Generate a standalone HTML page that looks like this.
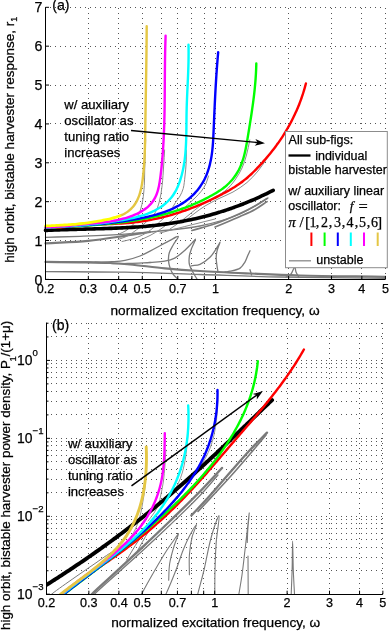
<!DOCTYPE html>
<html><head><meta charset="utf-8"><style>
html,body{margin:0;padding:0;background:#fff;}
svg{display:block;will-change:transform;}
</style></head><body>
<svg width="389" height="631" viewBox="0 0 389 631">
<defs><clipPath id="clipb"><rect x="46.5" y="322.6" width="337.372523698727" height="271.6"/></clipPath><clipPath id="clipa"><rect x="45.5" y="7.310000000000002" width="340.91328710608195" height="272.09"/></clipPath></defs>
<rect width="389" height="631" fill="#fff"/>
<line x1="45.00" y1="240.50" x2="385.41" y2="240.50" stroke="#555" stroke-width="1" stroke-dasharray="1,4" shape-rendering="crispEdges"/>
<line x1="45.00" y1="201.50" x2="385.41" y2="201.50" stroke="#555" stroke-width="1" stroke-dasharray="1,4" shape-rendering="crispEdges"/>
<line x1="45.00" y1="162.50" x2="385.41" y2="162.50" stroke="#555" stroke-width="1" stroke-dasharray="1,4" shape-rendering="crispEdges"/>
<line x1="45.00" y1="123.50" x2="385.41" y2="123.50" stroke="#555" stroke-width="1" stroke-dasharray="1,4" shape-rendering="crispEdges"/>
<line x1="45.00" y1="85.50" x2="385.41" y2="85.50" stroke="#555" stroke-width="1" stroke-dasharray="1,4" shape-rendering="crispEdges"/>
<line x1="45.00" y1="46.50" x2="385.41" y2="46.50" stroke="#555" stroke-width="1" stroke-dasharray="1,4" shape-rendering="crispEdges"/>
<line x1="45.00" y1="7.50" x2="385.41" y2="7.50" stroke="#555" stroke-width="1" stroke-dasharray="1,4" shape-rendering="crispEdges"/>
<line x1="88.50" y1="279.00" x2="88.50" y2="7.31" stroke="#555" stroke-width="1" stroke-dasharray="1,4" shape-rendering="crispEdges"/>
<line x1="118.50" y1="279.00" x2="118.50" y2="7.31" stroke="#555" stroke-width="1" stroke-dasharray="1,4" shape-rendering="crispEdges"/>
<line x1="142.50" y1="279.00" x2="142.50" y2="7.31" stroke="#555" stroke-width="1" stroke-dasharray="1,4" shape-rendering="crispEdges"/>
<line x1="161.50" y1="279.00" x2="161.50" y2="7.31" stroke="#555" stroke-width="1" stroke-dasharray="1,4" shape-rendering="crispEdges"/>
<line x1="177.50" y1="279.00" x2="177.50" y2="7.31" stroke="#555" stroke-width="1" stroke-dasharray="1,4" shape-rendering="crispEdges"/>
<line x1="191.50" y1="279.00" x2="191.50" y2="7.31" stroke="#555" stroke-width="1" stroke-dasharray="1,4" shape-rendering="crispEdges"/>
<line x1="204.50" y1="279.00" x2="204.50" y2="7.31" stroke="#555" stroke-width="1" stroke-dasharray="1,4" shape-rendering="crispEdges"/>
<line x1="215.50" y1="279.00" x2="215.50" y2="7.31" stroke="#555" stroke-width="1" stroke-dasharray="1,4" shape-rendering="crispEdges"/>
<line x1="288.50" y1="279.00" x2="288.50" y2="7.31" stroke="#555" stroke-width="1" stroke-dasharray="1,4" shape-rendering="crispEdges"/>
<line x1="331.50" y1="279.00" x2="331.50" y2="7.31" stroke="#555" stroke-width="1" stroke-dasharray="1,4" shape-rendering="crispEdges"/>
<line x1="361.50" y1="279.00" x2="361.50" y2="7.31" stroke="#555" stroke-width="1" stroke-dasharray="1,4" shape-rendering="crispEdges"/>
<line x1="385.50" y1="279.00" x2="385.50" y2="7.31" stroke="#555" stroke-width="1" stroke-dasharray="1,4" shape-rendering="crispEdges"/>
<path d="M45.50,237.30 C57.00,236.97 67.74,236.76 80.00,236.30 C94.01,235.77 110.95,235.17 125.00,234.20 C137.41,233.34 147.96,232.30 160.00,231.00 C172.90,229.60 186.78,228.79 200.00,226.00 C213.45,223.16 228.11,219.10 240.00,214.00 C250.45,209.52 258.67,203.33 268.00,198.00" stroke="#7a7a7a" stroke-width="1.3" fill="none" stroke-linecap="round" stroke-linejoin="round" />
<path d="M45.50,243.40 C59.67,242.53 74.35,242.14 88.00,240.80 C100.78,239.55 113.88,237.40 125.00,235.80 C134.15,234.49 141.67,233.27 150.00,232.00" stroke="#7a7a7a" stroke-width="2.2" fill="none" stroke-linecap="round" stroke-linejoin="round" />
<path d="M45.50,262.00 C57.00,262.10 68.90,262.12 80.00,262.30 C90.35,262.47 101.02,262.56 110.00,263.00 C117.35,263.36 122.41,263.80 130.00,264.50 C140.05,265.42 153.32,267.22 165.00,268.30 C176.66,269.38 187.29,270.19 200.00,271.00 C215.18,271.96 233.33,272.75 250.00,273.50 C266.66,274.25 281.13,274.98 300.00,275.50 C324.59,276.18 356.67,276.37 385.00,276.80" stroke="#7a7a7a" stroke-width="2.2" fill="none" stroke-linecap="round" stroke-linejoin="round" />
<path d="M45.50,261.50 C60.33,261.67 77.30,261.52 90.00,262.00 C99.53,262.36 107.72,263.42 115.00,263.60 C120.63,263.74 124.64,263.56 130.00,263.40 C136.19,263.22 143.33,262.80 150.00,262.50" stroke="#7a7a7a" stroke-width="1.4" fill="none" stroke-linecap="round" stroke-linejoin="round" />
<path d="M45.50,271.60 C72.00,271.80 98.89,271.70 125.00,272.20 C150.37,272.68 174.60,273.71 200.00,274.50 C226.24,275.31 251.52,276.38 280.00,277.00 C312.62,277.71 350.00,277.87 385.00,278.30" stroke="#7a7a7a" stroke-width="1.3" fill="none" stroke-linecap="round" stroke-linejoin="round" />
<path d="M95.00,262.20 C100.67,262.03 106.72,262.04 112.00,261.70 C116.63,261.40 120.55,261.27 125.00,260.40 C129.86,259.45 135.57,257.72 140.00,256.00 C143.74,254.55 146.68,252.81 150.00,251.10 C153.35,249.38 156.67,247.50 160.00,245.70 C163.33,243.90 166.80,241.90 170.00,240.30 C172.87,238.87 177.69,235.81 178.30,236.50 C178.94,237.21 174.74,242.21 173.20,245.00 C171.76,247.60 170.08,250.06 169.30,252.70 C168.56,255.20 168.37,257.84 168.50,260.40 C168.63,262.98 169.27,265.72 170.10,268.10 C170.88,270.33 171.89,272.47 173.20,274.30 C174.47,276.09 176.27,277.43 177.80,279.00" stroke="#7a7a7a" stroke-width="1.3" fill="none" stroke-linecap="round" stroke-linejoin="round" />
<path d="M150.00,262.50 C154.90,262.07 160.31,262.06 164.70,261.20 C168.40,260.47 171.51,259.76 174.70,258.10 C178.20,256.28 181.74,253.00 184.70,250.40 C187.32,248.09 189.73,245.47 191.70,243.40 C193.21,241.81 195.30,238.91 195.60,239.10 C195.99,239.35 192.76,245.19 191.70,248.10 C190.74,250.74 189.79,253.14 189.40,255.80 C189.00,258.54 188.81,261.53 189.40,264.30 C190.02,267.20 191.84,270.23 193.20,272.80 C194.40,275.07 195.73,276.93 197.00,279.00" stroke="#7a7a7a" stroke-width="1.3" fill="none" stroke-linecap="round" stroke-linejoin="round" />
<path d="M191.50,265.80 C194.33,265.30 197.18,265.47 200.00,264.30 C203.35,262.91 207.43,259.78 210.00,257.30 C212.05,255.32 213.20,253.31 214.70,251.10 C216.31,248.73 218.40,244.98 219.30,243.50 C219.67,242.89 220.03,242.17 220.10,242.20 C220.28,242.28 217.64,248.28 217.00,251.10 C216.44,253.54 216.21,255.71 216.20,258.10 C216.19,260.60 216.68,263.38 217.00,265.80 C217.29,267.98 217.67,269.93 218.00,272.00" stroke="#7a7a7a" stroke-width="1.3" fill="none" stroke-linecap="round" stroke-linejoin="round" />
<path d="M225.00,272.00 C226.70,271.73 228.14,271.66 230.10,271.20 C232.90,270.55 237.57,269.81 240.10,268.10 C242.24,266.65 243.50,264.44 244.80,262.30 C246.15,260.09 247.04,257.09 248.00,255.00 C248.73,253.40 249.33,252.20 250.00,250.80" stroke="#7a7a7a" stroke-width="1.3" fill="none" stroke-linecap="round" stroke-linejoin="round" />
<path d="M250.00,269.70 L251.60,275.00" stroke="#7a7a7a" stroke-width="1.3" fill="none" stroke-linecap="round" stroke-linejoin="round" />
<path d="M286.00,277.00 C287.67,276.00 289.75,275.35 291.00,274.00 C292.23,272.67 292.80,270.38 293.50,269.00 C294.00,268.02 294.43,266.45 294.80,266.50 C295.32,266.57 295.33,270.21 296.00,272.00 C296.70,273.89 298.00,275.67 299.00,277.50" stroke="#7a7a7a" stroke-width="1.3" fill="none" stroke-linecap="round" stroke-linejoin="round" />
<path d="M145.70,140.00 C145.57,143.33 145.44,146.09 145.30,150.00 C145.11,155.52 144.87,163.75 144.70,170.00 C144.55,175.52 144.63,180.51 144.30,185.60 C143.98,190.50 143.47,195.92 142.80,200.00 C142.30,203.07 141.68,205.54 141.00,208.00 C140.40,210.16 139.76,212.06 139.00,214.00 C138.26,215.89 137.54,217.67 136.50,219.50 C135.35,221.51 133.97,223.69 132.30,225.50 C130.56,227.37 128.48,229.04 126.20,230.50 C123.75,232.07 120.73,233.17 118.00,234.50" stroke="#8a8a8a" stroke-width="1.0" fill="none" stroke-linecap="round" stroke-linejoin="round" />
<path d="M164.60,150.00 C164.30,155.00 164.07,159.61 163.70,165.00 C163.26,171.32 162.88,179.25 162.10,185.60 C161.42,191.12 160.73,196.31 159.50,201.00 C158.42,205.11 157.00,209.35 155.40,212.30 C154.23,214.47 152.96,215.94 151.50,217.50 C150.06,219.04 148.40,220.16 146.70,221.60 C144.79,223.21 142.82,224.95 140.60,226.70 C138.07,228.70 134.89,231.15 132.30,232.90 C130.15,234.35 128.44,235.54 126.20,236.60 C123.72,237.77 120.73,238.53 118.00,239.50" stroke="#8a8a8a" stroke-width="1.0" fill="none" stroke-linecap="round" stroke-linejoin="round" />
<path d="M186.40,150.00 C186.33,154.10 186.42,158.09 186.20,162.30 C185.97,166.75 185.51,171.54 185.00,176.00 C184.51,180.29 184.21,185.01 183.20,188.60 C182.39,191.45 181.29,193.67 180.00,196.00 C178.72,198.30 177.08,200.09 175.50,202.50 C173.59,205.41 171.79,209.29 169.40,212.30 C166.99,215.33 164.06,217.80 161.10,220.60 C157.89,223.63 154.14,227.28 150.80,229.80 C148.00,231.92 145.57,233.50 142.60,235.00 C139.43,236.60 135.77,237.91 132.30,239.00 C128.90,240.07 125.43,240.67 122.00,241.50" stroke="#8a8a8a" stroke-width="1.0" fill="none" stroke-linecap="round" stroke-linejoin="round" />
<path d="M208.50,176.00 C207.60,178.67 207.00,181.47 205.80,184.00 C204.60,186.54 203.05,188.91 201.30,191.20 C199.47,193.59 197.12,195.89 195.00,198.00 C193.02,199.97 191.09,201.57 189.00,203.50 C186.68,205.64 184.32,207.77 181.70,210.30 C178.54,213.35 174.92,217.45 171.40,220.60 C168.05,223.59 164.68,226.31 161.10,228.80 C157.55,231.27 153.66,233.58 150.00,235.50 C146.63,237.27 143.33,238.50 140.00,240.00" stroke="#8a8a8a" stroke-width="1.0" fill="none" stroke-linecap="round" stroke-linejoin="round" />
<path d="M249.80,140.00 C248.70,145.00 247.85,150.22 246.50,155.00 C245.22,159.53 243.91,163.84 242.00,168.00 C240.08,172.18 237.77,176.22 235.00,180.00 C232.13,183.91 228.82,187.92 225.00,191.00 C221.16,194.09 216.22,195.96 212.00,198.50 C207.90,200.96 203.75,203.34 200.00,206.00 C196.44,208.53 193.33,211.33 190.00,214.00 C186.67,216.67 183.37,219.47 180.00,222.00 C176.71,224.47 173.33,226.67 170.00,229.00" stroke="#8a8a8a" stroke-width="1.0" fill="none" stroke-linecap="round" stroke-linejoin="round" />
<path d="M266.00,160.00 C263.33,163.67 261.01,167.39 258.00,171.00 C254.74,174.90 251.09,179.04 247.00,182.50 C242.78,186.07 237.78,189.29 233.00,192.00 C228.44,194.59 223.63,196.19 219.00,198.50 C214.30,200.85 209.21,203.41 205.00,206.00 C201.31,208.27 198.29,210.53 195.00,213.00 C191.63,215.53 188.33,218.33 185.00,221.00" stroke="#8a8a8a" stroke-width="1.0" fill="none" stroke-linecap="round" stroke-linejoin="round" />
<path d="M160.00,233.00 C165.00,231.67 169.64,230.39 175.00,229.00 C181.18,227.40 188.33,225.67 195.00,224.00 C201.67,222.33 208.33,220.67 215.00,219.00" stroke="#8a8a8a" stroke-width="1.0" fill="none" stroke-linecap="round" stroke-linejoin="round" />
<path d="M191.90,230.50 C199.60,228.27 207.22,226.52 215.00,223.80 C223.25,220.91 232.78,216.79 240.00,213.50 C245.69,210.91 250.32,208.61 255.00,206.00 C259.31,203.59 263.07,201.00 267.10,198.50" stroke="#7a7a7a" stroke-width="1.7" fill="none" stroke-linecap="round" stroke-linejoin="round" />
<path d="M215.10,227.00 C223.40,223.50 232.77,219.71 240.00,216.50 C245.66,213.99 250.35,212.08 255.00,209.50 C259.34,207.09 263.07,204.23 267.10,201.60" stroke="#7a7a7a" stroke-width="1.7" fill="none" stroke-linecap="round" stroke-linejoin="round" />
<path d="M45.50,230.40 C46.52,230.35 47.55,230.30 48.57,230.26 C49.60,230.21 50.62,230.17 51.64,230.12 C52.67,230.08 53.69,230.04 54.71,230.00 C55.74,229.96 56.76,229.92 57.79,229.89 C58.81,229.85 59.84,229.82 60.86,229.78 C61.88,229.75 62.91,229.72 63.93,229.68 C64.96,229.65 65.98,229.62 67.01,229.59 C68.03,229.56 69.05,229.53 70.08,229.50 C71.10,229.47 72.13,229.45 73.15,229.42 C74.18,229.39 75.20,229.37 76.22,229.34 C77.25,229.31 78.27,229.29 79.30,229.26 C80.32,229.24 81.35,229.21 82.37,229.18 C83.40,229.16 84.42,229.13 85.44,229.11 C86.47,229.08 87.49,229.06 88.52,229.03 C89.54,229.00 90.57,228.98 91.59,228.95 C92.62,228.92 93.64,228.90 94.66,228.87 C95.69,228.84 96.71,228.81 97.74,228.78 C98.76,228.76 99.79,228.73 100.81,228.69 C101.84,228.66 102.86,228.63 103.88,228.60 C104.91,228.57 105.93,228.53 106.96,228.50 C107.98,228.46 109.00,228.43 110.03,228.39 C111.05,228.35 112.08,228.31 113.10,228.27 C114.13,228.23 115.15,228.19 116.17,228.15 C117.20,228.11 118.22,228.06 119.24,228.01 C120.27,227.97 121.29,227.92 122.31,227.87 C123.34,227.82 124.36,227.76 125.39,227.71 C126.41,227.65 127.43,227.60 128.45,227.54 C129.48,227.48 130.50,227.42 131.52,227.35 C132.55,227.29 133.57,227.22 134.59,227.15 C135.61,227.08 136.64,227.01 137.66,226.94 C138.68,226.86 139.70,226.78 140.72,226.70 C141.75,226.62 142.77,226.54 143.79,226.45 C144.81,226.37 145.83,226.28 146.85,226.18 C147.87,226.09 148.89,226.00 149.91,225.90 C150.93,225.80 151.95,225.69 152.97,225.59 C153.99,225.48 155.01,225.37 156.03,225.26 C157.04,225.14 158.06,225.02 159.08,224.90 C160.10,224.78 161.11,224.66 162.13,224.53 C163.15,224.40 164.16,224.26 165.18,224.12 C166.19,223.99 167.21,223.84 168.22,223.70 C169.24,223.55 170.25,223.40 171.26,223.24 C172.28,223.09 173.29,222.93 174.30,222.76 C175.31,222.60 176.32,222.43 177.33,222.26 C178.34,222.08 179.35,221.91 180.36,221.72 C181.37,221.54 182.38,221.35 183.38,221.16 C184.39,220.97 185.40,220.77 186.40,220.57 C187.41,220.37 188.41,220.17 189.41,219.96 C190.42,219.75 191.42,219.54 192.42,219.32 C193.42,219.10 194.42,218.88 195.42,218.65 C196.42,218.42 197.42,218.19 198.41,217.95 C199.41,217.71 200.41,217.47 201.40,217.23 C202.40,216.98 203.39,216.73 204.38,216.48 C205.38,216.22 206.37,215.96 207.36,215.70 C208.35,215.43 209.34,215.16 210.32,214.89 C211.31,214.62 212.30,214.34 213.28,214.06 C214.27,213.78 215.25,213.49 216.24,213.20 C217.22,212.91 218.20,212.61 219.18,212.31 C220.16,212.01 221.14,211.70 222.11,211.40 C223.09,211.09 224.07,210.77 225.04,210.45 C226.01,210.13 226.99,209.81 227.96,209.48 C228.93,209.16 229.90,208.82 230.87,208.49 C231.83,208.15 232.80,207.81 233.76,207.46 C234.73,207.12 235.69,206.77 236.65,206.41 C237.61,206.06 238.57,205.70 239.53,205.33 C240.49,204.97 241.45,204.60 242.40,204.23 C243.36,203.85 244.31,203.48 245.26,203.09 C246.21,202.71 247.16,202.32 248.11,201.93 C249.05,201.54 250.00,201.15 250.94,200.75 C251.89,200.35 252.83,199.94 253.77,199.53 C254.71,199.12 255.64,198.71 256.58,198.29 C257.52,197.87 258.45,197.45 259.38,197.03 C260.31,196.60 261.24,196.17 262.17,195.73 C263.10,195.30 264.02,194.86 264.95,194.41 C265.87,193.97 266.79,193.52 267.71,193.06 C268.63,192.61 269.55,192.15 270.46,191.69 C271.38,191.23 272.29,190.76 273.20,190.29" stroke="#000" stroke-width="3.6" fill="none" stroke-linecap="round" stroke-linejoin="round" />
<path d="M45.50,227.70 C46.51,227.70 47.52,227.70 48.53,227.69 C49.54,227.68 50.55,227.66 51.56,227.64 C52.57,227.62 53.59,227.59 54.60,227.55 C55.61,227.52 56.62,227.48 57.63,227.43 C58.63,227.38 59.64,227.33 60.65,227.28 C61.66,227.22 62.67,227.16 63.68,227.10 C64.69,227.04 65.70,226.97 66.71,226.90 C67.72,226.83 68.72,226.76 69.73,226.68 C70.74,226.61 71.75,226.53 72.75,226.45 C73.76,226.37 74.77,226.29 75.78,226.21 C76.79,226.13 77.79,226.05 78.80,225.97 C79.81,225.89 80.82,225.81 81.82,225.73 C82.83,225.64 83.84,225.56 84.85,225.49 C85.85,225.41 86.86,225.33 87.87,225.26 C88.88,225.18 89.89,225.11 90.89,225.04 C91.90,224.97 92.91,224.90 93.92,224.84 C94.93,224.77 95.94,224.71 96.95,224.66 C97.96,224.60 98.97,224.55 99.97,224.49 C100.98,224.44 101.99,224.39 103.00,224.35 C104.01,224.30 105.02,224.25 106.03,224.21 C107.04,224.16 108.05,224.12 109.06,224.07 C110.07,224.03 111.08,223.98 112.09,223.93 C113.10,223.89 114.11,223.84 115.12,223.79 C116.13,223.74 117.14,223.69 118.15,223.63 C119.16,223.57 120.17,223.52 121.18,223.45 C122.18,223.39 123.19,223.33 124.20,223.25 C125.21,223.18 126.22,223.11 127.23,223.03 C128.23,222.94 129.24,222.86 130.25,222.76 C131.25,222.67 132.26,222.57 133.26,222.46 C134.27,222.36 135.27,222.24 136.28,222.12 C137.28,222.00 138.28,221.87 139.28,221.73 C140.29,221.59 141.29,221.45 142.29,221.30 C143.29,221.15 144.28,220.99 145.28,220.83 C146.28,220.66 147.27,220.49 148.27,220.31 C149.26,220.14 150.26,219.95 151.25,219.76 C152.24,219.57 153.23,219.37 154.22,219.16 C155.21,218.96 156.20,218.75 157.19,218.53 C158.18,218.31 159.16,218.08 160.14,217.85 C161.13,217.62 162.11,217.38 163.09,217.14 C164.07,216.89 165.05,216.64 166.03,216.38 C167.01,216.12 167.98,215.86 168.96,215.59 C169.93,215.32 170.90,215.04 171.87,214.76 C172.84,214.48 173.81,214.19 174.78,213.90 C175.75,213.60 176.71,213.30 177.67,212.99 C178.64,212.69 179.60,212.37 180.56,212.05 C181.52,211.74 182.47,211.41 183.43,211.08 C184.38,210.75 185.34,210.42 186.29,210.07 C187.24,209.73 188.19,209.38 189.14,209.03 C190.08,208.68 191.03,208.32 191.97,207.96 C192.92,207.59 193.86,207.22 194.80,206.85 C195.73,206.47 196.67,206.09 197.60,205.71 C198.54,205.32 199.47,204.93 200.40,204.53 C201.33,204.14 202.26,203.74 203.18,203.33 C204.11,202.92 205.03,202.51 205.95,202.10 C206.88,201.68 207.79,201.26 208.71,200.83 C209.63,200.41 210.54,199.97 211.45,199.54 C212.36,199.10 213.27,198.66 214.18,198.21 C215.09,197.77 215.99,197.32 216.89,196.86 C217.80,196.41 218.70,195.94 219.59,195.48 C220.49,195.01 221.39,194.54 222.28,194.07 C223.17,193.59 224.06,193.11 224.94,192.62 C225.83,192.14 226.72,191.65 227.60,191.15 C228.48,190.66 229.35,190.15 230.23,189.64 C231.10,189.13 231.97,188.62 232.83,188.09 C233.69,187.56 234.55,187.03 235.40,186.48 C236.25,185.94 237.10,185.39 237.94,184.82 C238.78,184.26 239.61,183.68 240.43,183.10 C241.25,182.51 242.07,181.91 242.88,181.30 C243.68,180.69 244.48,180.07 245.26,179.43 C246.05,178.79 246.82,178.14 247.58,177.48 C248.35,176.82 249.10,176.15 249.85,175.46 C250.60,174.78 251.33,174.09 252.06,173.39 C252.79,172.69 253.51,171.98 254.22,171.26 C254.94,170.55 255.64,169.83 256.35,169.10 C257.05,168.37 257.74,167.64 258.43,166.90 C259.13,166.16 259.81,165.42 260.49,164.67 C261.18,163.93 261.86,163.18 262.53,162.43 C263.21,161.68 263.88,160.92 264.55,160.16 C265.21,159.40 265.88,158.64 266.53,157.87 C267.19,157.10 267.84,156.33 268.49,155.56 C269.14,154.78 269.78,154.00 270.42,153.21 C271.05,152.43 271.68,151.64 272.31,150.84 C272.93,150.05 273.55,149.25 274.16,148.45 C274.78,147.64 275.38,146.83 275.98,146.02 C276.58,145.20 277.18,144.39 277.76,143.56 C278.35,142.74 278.93,141.91 279.51,141.08 C280.08,140.25 280.65,139.41 281.21,138.57 C281.77,137.73 282.32,136.89 282.87,136.04 C283.42,135.19 283.96,134.33 284.49,133.48 C285.03,132.62 285.55,131.75 286.07,130.89 C286.59,130.02 287.11,129.15 287.61,128.27 C288.12,127.40 288.62,126.52 289.11,125.64 C289.60,124.75 290.08,123.86 290.56,122.97 C291.03,122.08 291.50,121.19 291.96,120.29 C292.42,119.39 292.88,118.48 293.32,117.58 C293.77,116.67 294.21,115.76 294.64,114.84 C295.07,113.93 295.49,113.01 295.91,112.09 C296.32,111.17 296.73,110.24 297.13,109.31 C297.53,108.38 297.92,107.45 298.30,106.52 C298.68,105.58 299.06,104.64 299.42,103.70 C299.79,102.76 300.15,101.81 300.50,100.87 C300.85,99.92 301.19,98.97 301.53,98.01 C301.86,97.06 302.19,96.10 302.50,95.14 C302.82,94.18 303.13,93.22 303.43,92.25 C303.73,91.29 304.02,90.32 304.30,89.35 C304.59,88.38 304.86,87.41 305.13,86.43 C305.39,85.46 305.64,84.48 305.90,83.50" stroke="#ff0000" stroke-width="2.4" fill="none" stroke-linecap="round" stroke-linejoin="round" />
<path d="M45.50,227.60 C46.52,227.55 47.53,227.51 48.55,227.47 C49.56,227.42 50.58,227.38 51.60,227.33 C52.61,227.29 53.63,227.24 54.64,227.20 C55.66,227.15 56.67,227.11 57.69,227.07 C58.70,227.02 59.72,226.98 60.74,226.93 C61.75,226.88 62.77,226.84 63.78,226.79 C64.80,226.74 65.81,226.70 66.83,226.65 C67.85,226.60 68.86,226.55 69.88,226.50 C70.89,226.45 71.91,226.40 72.92,226.35 C73.94,226.30 74.95,226.24 75.97,226.19 C76.98,226.14 78.00,226.08 79.01,226.02 C80.03,225.97 81.04,225.91 82.06,225.85 C83.07,225.79 84.09,225.73 85.10,225.66 C86.12,225.60 87.13,225.54 88.15,225.47 C89.16,225.40 90.18,225.34 91.19,225.26 C92.20,225.19 93.22,225.12 94.23,225.05 C95.25,224.97 96.26,224.90 97.27,224.82 C98.29,224.74 99.30,224.66 100.31,224.57 C101.33,224.49 102.34,224.40 103.35,224.31 C104.37,224.22 105.38,224.13 106.39,224.04 C107.40,223.94 108.41,223.84 109.43,223.74 C110.44,223.64 111.45,223.54 112.46,223.43 C113.47,223.33 114.48,223.22 115.49,223.10 C116.50,222.99 117.51,222.88 118.52,222.76 C119.53,222.64 120.54,222.51 121.55,222.39 C122.56,222.26 123.57,222.13 124.58,222.00 C125.58,221.86 126.59,221.72 127.60,221.58 C128.60,221.44 129.61,221.30 130.62,221.15 C131.62,221.00 132.63,220.84 133.63,220.68 C134.63,220.53 135.64,220.36 136.64,220.20 C137.64,220.03 138.65,219.86 139.65,219.68 C140.65,219.51 141.65,219.33 142.65,219.14 C143.65,218.96 144.65,218.77 145.65,218.57 C146.64,218.38 147.64,218.18 148.64,217.98 C149.63,217.77 150.63,217.56 151.62,217.35 C152.61,217.13 153.61,216.91 154.60,216.69 C155.59,216.46 156.58,216.23 157.57,215.99 C158.56,215.76 159.55,215.51 160.53,215.27 C161.52,215.02 162.50,214.77 163.48,214.51 C164.47,214.25 165.45,213.98 166.43,213.71 C167.41,213.44 168.39,213.16 169.36,212.88 C170.34,212.60 171.31,212.31 172.29,212.01 C173.26,211.72 174.23,211.41 175.20,211.10 C176.17,210.80 177.14,210.48 178.10,210.16 C179.06,209.84 180.03,209.51 180.99,209.18 C181.95,208.84 182.90,208.50 183.86,208.15 C184.81,207.80 185.77,207.45 186.72,207.09 C187.67,206.72 188.61,206.35 189.56,205.98 C190.50,205.60 191.45,205.22 192.38,204.83 C193.32,204.44 194.26,204.04 195.19,203.64 C196.12,203.23 197.05,202.82 197.98,202.40 C198.91,201.99 199.83,201.56 200.75,201.13 C201.67,200.69 202.59,200.25 203.50,199.80 C204.41,199.36 205.32,198.90 206.23,198.44 C207.13,197.97 208.03,197.50 208.93,197.03 C209.83,196.55 210.72,196.06 211.61,195.57 C212.50,195.08 213.38,194.58 214.26,194.06 C215.14,193.55 216.01,193.03 216.87,192.49 C217.74,191.95 218.60,191.41 219.44,190.84 C220.29,190.28 221.12,189.70 221.95,189.10 C222.77,188.51 223.58,187.90 224.38,187.26 C225.17,186.63 225.96,185.98 226.72,185.31 C227.48,184.64 228.23,183.94 228.95,183.23 C229.67,182.51 230.38,181.78 231.06,181.02 C231.74,180.27 232.40,179.49 233.03,178.70 C233.67,177.91 234.28,177.10 234.87,176.27 C235.46,175.44 236.03,174.60 236.57,173.74 C237.11,172.88 237.63,172.00 238.12,171.11 C238.62,170.22 239.08,169.32 239.52,168.40 C239.97,167.49 240.38,166.56 240.78,165.62 C241.17,164.68 241.54,163.74 241.89,162.78 C242.24,161.83 242.56,160.86 242.87,159.89 C243.18,158.93 243.47,157.95 243.74,156.97 C244.02,155.99 244.27,155.01 244.52,154.02 C244.76,153.04 244.99,152.05 245.21,151.05 C245.44,150.06 245.64,149.07 245.84,148.07 C246.04,147.07 246.23,146.07 246.42,145.07 C246.60,144.07 246.78,143.07 246.95,142.07 C247.13,141.07 247.29,140.07 247.46,139.06 C247.63,138.06 247.79,137.06 247.95,136.05 C248.12,135.05 248.28,134.05 248.44,133.04 C248.61,132.04 248.77,131.04 248.93,130.03 C249.10,129.03 249.26,128.03 249.42,127.02 C249.58,126.02 249.74,125.01 249.90,124.01 C250.06,123.01 250.22,122.00 250.38,121.00 C250.54,119.99 250.70,118.99 250.86,117.98 C251.01,116.98 251.17,115.98 251.32,114.97 C251.47,113.96 251.62,112.96 251.77,111.95 C251.92,110.95 252.07,109.94 252.21,108.94 C252.36,107.93 252.50,106.92 252.64,105.92 C252.78,104.91 252.92,103.90 253.06,102.89 C253.19,101.89 253.32,100.88 253.45,99.87 C253.58,98.86 253.71,97.85 253.83,96.84 C253.95,95.83 254.07,94.82 254.19,93.81 C254.30,92.80 254.41,91.79 254.52,90.78 C254.63,89.77 254.73,88.76 254.83,87.75 C254.93,86.74 255.03,85.73 255.12,84.71 C255.21,83.70 255.30,82.69 255.38,81.67 C255.46,80.66 255.54,79.65 255.61,78.63 C255.68,77.62 255.75,76.60 255.81,75.59 C255.88,74.57 255.93,73.56 255.98,72.54 C256.04,71.53 256.08,70.51 256.12,69.50 C256.16,68.48 256.20,67.47 256.23,66.45 C256.26,65.43 256.28,64.42 256.30,63.40" stroke="#00ff00" stroke-width="2.4" fill="none" stroke-linecap="round" stroke-linejoin="round" />
<path d="M45.50,227.50 C46.51,227.45 47.53,227.41 48.54,227.36 C49.56,227.31 50.58,227.26 51.59,227.22 C52.61,227.17 53.62,227.12 54.64,227.07 C55.65,227.02 56.67,226.97 57.68,226.92 C58.70,226.87 59.71,226.82 60.73,226.77 C61.74,226.72 62.76,226.67 63.77,226.61 C64.79,226.56 65.80,226.51 66.82,226.45 C67.83,226.40 68.84,226.34 69.86,226.28 C70.87,226.22 71.89,226.17 72.90,226.10 C73.92,226.04 74.93,225.98 75.95,225.92 C76.96,225.86 77.97,225.79 78.99,225.72 C80.00,225.66 81.02,225.59 82.03,225.52 C83.04,225.45 84.06,225.37 85.07,225.30 C86.09,225.23 87.10,225.15 88.11,225.07 C89.13,224.99 90.14,224.91 91.15,224.83 C92.16,224.74 93.18,224.66 94.19,224.57 C95.20,224.48 96.21,224.39 97.23,224.30 C98.24,224.20 99.25,224.11 100.26,224.01 C101.27,223.91 102.28,223.81 103.29,223.70 C104.31,223.60 105.32,223.49 106.33,223.38 C107.34,223.27 108.35,223.16 109.36,223.04 C110.37,222.92 111.37,222.80 112.38,222.68 C113.39,222.56 114.40,222.43 115.41,222.30 C116.42,222.17 117.42,222.04 118.43,221.90 C119.44,221.77 120.44,221.62 121.45,221.48 C122.46,221.34 123.46,221.19 124.47,221.04 C125.47,220.89 126.48,220.73 127.48,220.58 C128.48,220.42 129.49,220.26 130.49,220.09 C131.49,219.92 132.50,219.75 133.50,219.58 C134.50,219.41 135.50,219.23 136.50,219.05 C137.50,218.86 138.50,218.68 139.50,218.49 C140.49,218.29 141.49,218.09 142.49,217.89 C143.48,217.68 144.48,217.47 145.47,217.26 C146.46,217.04 147.45,216.81 148.44,216.58 C149.43,216.35 150.42,216.11 151.40,215.86 C152.39,215.61 153.37,215.35 154.35,215.09 C155.33,214.82 156.31,214.54 157.29,214.26 C158.26,213.97 159.23,213.67 160.20,213.37 C161.17,213.06 162.14,212.74 163.10,212.41 C164.06,212.08 165.01,211.73 165.97,211.38 C166.92,211.02 167.87,210.65 168.81,210.27 C169.75,209.89 170.68,209.49 171.61,209.08 C172.54,208.67 173.47,208.24 174.38,207.80 C175.30,207.36 176.20,206.90 177.10,206.43 C178.00,205.95 178.89,205.46 179.77,204.96 C180.65,204.45 181.52,203.92 182.38,203.38 C183.24,202.83 184.09,202.27 184.92,201.69 C185.75,201.11 186.58,200.51 187.38,199.89 C188.19,199.27 188.98,198.64 189.76,197.98 C190.53,197.32 191.29,196.65 192.03,195.95 C192.77,195.26 193.50,194.54 194.20,193.81 C194.91,193.08 195.60,192.33 196.26,191.56 C196.93,190.80 197.58,190.02 198.21,189.22 C198.83,188.42 199.44,187.60 200.03,186.77 C200.61,185.94 201.18,185.09 201.72,184.23 C202.26,183.37 202.78,182.50 203.27,181.61 C203.77,180.73 204.24,179.82 204.69,178.91 C205.14,178.00 205.57,177.08 205.97,176.15 C206.38,175.21 206.76,174.27 207.12,173.32 C207.48,172.37 207.82,171.41 208.14,170.45 C208.47,169.49 208.77,168.52 209.05,167.54 C209.33,166.56 209.59,165.58 209.84,164.60 C210.09,163.61 210.31,162.62 210.52,161.62 C210.74,160.63 210.93,159.63 211.11,158.63 C211.29,157.63 211.46,156.63 211.61,155.63 C211.76,154.62 211.90,153.61 212.03,152.61 C212.16,151.60 212.28,150.59 212.38,149.58 C212.49,148.57 212.59,147.56 212.68,146.54 C212.77,145.53 212.85,144.52 212.92,143.50 C213.00,142.49 213.06,141.48 213.12,140.46 C213.19,139.45 213.24,138.43 213.30,137.42 C213.35,136.40 213.40,135.39 213.44,134.37 C213.49,133.36 213.54,132.34 213.58,131.33 C213.62,130.31 213.67,129.30 213.71,128.28 C213.75,127.27 213.80,126.25 213.84,125.23 C213.88,124.22 213.93,123.20 213.97,122.19 C214.01,121.17 214.06,120.16 214.10,119.14 C214.15,118.13 214.19,117.11 214.23,116.10 C214.28,115.08 214.32,114.07 214.37,113.05 C214.41,112.03 214.46,111.02 214.50,110.00 C214.55,108.99 214.60,107.97 214.64,106.96 C214.69,105.94 214.74,104.93 214.78,103.91 C214.83,102.90 214.88,101.88 214.93,100.87 C214.98,99.85 215.03,98.84 215.08,97.82 C215.13,96.81 215.18,95.79 215.24,94.78 C215.29,93.76 215.34,92.75 215.40,91.73 C215.45,90.72 215.51,89.70 215.56,88.69 C215.62,87.67 215.68,86.66 215.74,85.64 C215.80,84.63 215.86,83.62 215.92,82.60 C215.98,81.59 216.04,80.57 216.10,79.56 C216.17,78.54 216.23,77.53 216.30,76.52 C216.37,75.50 216.43,74.49 216.50,73.47 C216.57,72.46 216.64,71.45 216.72,70.43 C216.79,69.42 216.86,68.40 216.94,67.39 C217.01,66.38 217.09,65.36 217.17,64.35 C217.25,63.34 217.33,62.33 217.41,61.31 C217.49,60.30 217.58,59.29 217.66,58.27 C217.75,57.26 217.84,56.25 217.93,55.24 C218.02,54.22 218.11,53.21 218.20,52.20" stroke="#0000ff" stroke-width="2.4" fill="none" stroke-linecap="round" stroke-linejoin="round" />
<path d="M45.50,227.40 C46.51,227.35 47.52,227.31 48.53,227.26 C49.54,227.21 50.55,227.16 51.56,227.11 C52.57,227.07 53.58,227.02 54.59,226.97 C55.60,226.92 56.61,226.86 57.61,226.81 C58.62,226.76 59.63,226.71 60.64,226.65 C61.65,226.60 62.66,226.54 63.67,226.48 C64.68,226.42 65.69,226.36 66.70,226.30 C67.71,226.24 68.72,226.18 69.72,226.12 C70.73,226.05 71.74,225.99 72.75,225.92 C73.76,225.85 74.77,225.78 75.78,225.71 C76.78,225.63 77.79,225.56 78.80,225.48 C79.81,225.41 80.81,225.33 81.82,225.24 C82.83,225.16 83.84,225.08 84.84,224.99 C85.85,224.90 86.86,224.81 87.86,224.72 C88.87,224.63 89.88,224.53 90.88,224.43 C91.89,224.33 92.89,224.23 93.90,224.12 C94.90,224.02 95.91,223.91 96.91,223.80 C97.92,223.68 98.92,223.57 99.93,223.45 C100.93,223.33 101.93,223.21 102.94,223.08 C103.94,222.95 104.94,222.82 105.94,222.69 C106.95,222.55 107.95,222.42 108.95,222.27 C109.95,222.13 110.95,221.98 111.95,221.83 C112.95,221.68 113.95,221.53 114.94,221.37 C115.94,221.21 116.94,221.05 117.94,220.88 C118.93,220.71 119.93,220.54 120.92,220.36 C121.92,220.19 122.91,220.00 123.91,219.82 C124.90,219.63 125.89,219.44 126.89,219.25 C127.88,219.05 128.87,218.85 129.86,218.64 C130.85,218.43 131.83,218.22 132.82,218.00 C133.81,217.77 134.79,217.54 135.77,217.30 C136.75,217.05 137.73,216.80 138.71,216.53 C139.68,216.27 140.65,215.99 141.62,215.70 C142.59,215.41 143.55,215.10 144.51,214.78 C145.47,214.46 146.42,214.12 147.37,213.77 C148.31,213.41 149.26,213.04 150.19,212.65 C151.12,212.26 152.04,211.85 152.96,211.42 C153.87,210.99 154.78,210.54 155.67,210.06 C156.56,209.59 157.45,209.09 158.31,208.58 C159.18,208.06 160.04,207.52 160.87,206.95 C161.71,206.39 162.54,205.80 163.34,205.19 C164.14,204.58 164.93,203.94 165.70,203.28 C166.46,202.62 167.21,201.94 167.93,201.23 C168.65,200.53 169.36,199.80 170.03,199.04 C170.70,198.29 171.34,197.51 171.96,196.71 C172.57,195.90 173.16,195.08 173.71,194.23 C174.27,193.39 174.79,192.52 175.28,191.64 C175.78,190.76 176.24,189.86 176.68,188.95 C177.13,188.04 177.54,187.12 177.94,186.19 C178.33,185.26 178.70,184.32 179.06,183.37 C179.41,182.43 179.75,181.47 180.07,180.51 C180.39,179.56 180.70,178.59 180.98,177.62 C181.27,176.65 181.54,175.68 181.80,174.70 C182.06,173.73 182.30,172.74 182.53,171.76 C182.76,170.78 182.98,169.79 183.18,168.80 C183.38,167.81 183.57,166.81 183.74,165.82 C183.92,164.82 184.08,163.82 184.24,162.83 C184.39,161.83 184.53,160.83 184.66,159.82 C184.79,158.82 184.91,157.82 185.02,156.81 C185.13,155.81 185.23,154.80 185.33,153.80 C185.42,152.79 185.51,151.78 185.58,150.77 C185.66,149.77 185.73,148.76 185.79,147.75 C185.85,146.74 185.91,145.73 185.96,144.72 C186.01,143.71 186.05,142.70 186.09,141.69 C186.13,140.68 186.17,139.67 186.20,138.66 C186.23,137.65 186.25,136.64 186.27,135.63 C186.30,134.62 186.32,133.61 186.33,132.60 C186.35,131.59 186.36,130.58 186.38,129.57 C186.39,128.56 186.40,127.54 186.41,126.53 C186.42,125.52 186.43,124.51 186.44,123.50 C186.45,122.49 186.46,121.48 186.47,120.47 C186.48,119.46 186.49,118.45 186.50,117.44 C186.51,116.43 186.53,115.42 186.54,114.40 C186.56,113.39 186.58,112.38 186.60,111.37 C186.62,110.36 186.65,109.35 186.68,108.34 C186.70,107.33 186.73,106.32 186.77,105.31 C186.80,104.30 186.83,103.29 186.87,102.28 C186.91,101.27 186.95,100.26 186.99,99.25 C187.03,98.24 187.07,97.23 187.11,96.22 C187.16,95.21 187.20,94.20 187.25,93.19 C187.29,92.18 187.34,91.17 187.38,90.16 C187.43,89.15 187.48,88.14 187.53,87.13 C187.57,86.12 187.62,85.11 187.67,84.10 C187.71,83.09 187.76,82.08 187.80,81.07 C187.85,80.06 187.90,79.05 187.94,78.04 C187.98,77.03 188.03,76.02 188.07,75.01 C188.11,74.00 188.15,72.99 188.19,71.98 C188.22,70.97 188.26,69.96 188.29,68.95 C188.33,67.94 188.36,66.93 188.39,65.92 C188.42,64.91 188.44,63.90 188.47,62.89 C188.49,61.88 188.51,60.87 188.53,59.86 C188.54,58.85 188.56,57.84 188.57,56.83 C188.58,55.82 188.59,54.81 188.59,53.80 C188.59,52.79 188.59,51.77 188.58,50.76 C188.58,49.75 188.57,48.74 188.56,47.73 C188.54,46.72 188.52,45.71 188.50,44.70" stroke="#00ffff" stroke-width="2.4" fill="none" stroke-linecap="round" stroke-linejoin="round" />
<path d="M45.50,227.20 C46.52,227.17 47.53,227.15 48.55,227.12 C49.56,227.09 50.58,227.05 51.59,227.01 C52.61,226.96 53.62,226.91 54.64,226.86 C55.65,226.80 56.67,226.74 57.68,226.67 C58.69,226.61 59.71,226.54 60.72,226.46 C61.73,226.39 62.75,226.31 63.76,226.23 C64.77,226.14 65.78,226.06 66.80,225.97 C67.81,225.88 68.82,225.79 69.83,225.70 C70.84,225.60 71.86,225.51 72.87,225.41 C73.88,225.31 74.89,225.21 75.90,225.12 C76.91,225.02 77.92,224.92 78.93,224.82 C79.94,224.71 80.96,224.61 81.97,224.51 C82.98,224.41 83.99,224.31 85.00,224.21 C86.01,224.12 87.02,224.02 88.03,223.92 C89.05,223.83 90.06,223.73 91.07,223.64 C92.08,223.54 93.09,223.45 94.10,223.35 C95.11,223.25 96.13,223.15 97.14,223.05 C98.15,222.95 99.16,222.85 100.17,222.74 C101.18,222.62 102.19,222.51 103.20,222.39 C104.21,222.27 105.21,222.14 106.22,222.01 C107.23,221.87 108.23,221.73 109.24,221.58 C110.24,221.43 111.25,221.27 112.25,221.09 C113.25,220.92 114.25,220.74 115.25,220.55 C116.24,220.35 117.24,220.15 118.23,219.93 C119.22,219.71 120.21,219.48 121.20,219.24 C122.19,218.99 123.17,218.74 124.15,218.46 C125.12,218.19 126.10,217.90 127.07,217.59 C128.04,217.29 129.00,216.97 129.96,216.63 C130.92,216.29 131.87,215.93 132.81,215.56 C133.76,215.18 134.70,214.79 135.62,214.37 C136.55,213.96 137.47,213.52 138.37,213.06 C139.28,212.60 140.17,212.12 141.05,211.61 C141.93,211.10 142.80,210.57 143.64,210.00 C144.49,209.44 145.32,208.85 146.12,208.23 C146.92,207.61 147.71,206.96 148.46,206.27 C149.20,205.59 149.93,204.87 150.61,204.12 C151.30,203.37 151.95,202.59 152.55,201.77 C153.16,200.96 153.72,200.10 154.23,199.23 C154.74,198.35 155.21,197.44 155.64,196.52 C156.06,195.60 156.44,194.66 156.80,193.71 C157.15,192.75 157.46,191.79 157.75,190.81 C158.03,189.84 158.29,188.85 158.52,187.86 C158.76,186.88 158.96,185.88 159.16,184.88 C159.35,183.89 159.52,182.88 159.68,181.88 C159.84,180.88 159.99,179.87 160.13,178.87 C160.27,177.86 160.40,176.85 160.53,175.84 C160.65,174.84 160.77,173.83 160.89,172.82 C161.01,171.81 161.13,170.80 161.24,169.79 C161.35,168.78 161.46,167.77 161.56,166.76 C161.67,165.75 161.77,164.74 161.87,163.73 C161.97,162.71 162.06,161.70 162.15,160.69 C162.24,159.68 162.33,158.67 162.42,157.65 C162.50,156.64 162.58,155.63 162.66,154.62 C162.74,153.60 162.82,152.59 162.89,151.58 C162.96,150.56 163.03,149.55 163.10,148.54 C163.17,147.52 163.23,146.51 163.29,145.49 C163.35,144.48 163.41,143.47 163.47,142.45 C163.53,141.44 163.58,140.42 163.63,139.41 C163.68,138.39 163.73,137.38 163.78,136.36 C163.83,135.35 163.87,134.33 163.91,133.32 C163.96,132.30 164.00,131.29 164.03,130.27 C164.07,129.26 164.11,128.24 164.14,127.23 C164.18,126.21 164.21,125.20 164.24,124.18 C164.27,123.16 164.30,122.15 164.33,121.13 C164.35,120.12 164.38,119.10 164.40,118.09 C164.43,117.07 164.45,116.05 164.47,115.04 C164.49,114.02 164.51,113.01 164.53,111.99 C164.55,110.97 164.56,109.96 164.58,108.94 C164.60,107.93 164.61,106.91 164.62,105.90 C164.64,104.88 164.65,103.86 164.66,102.85 C164.67,101.83 164.69,100.82 164.70,99.80 C164.71,98.78 164.72,97.77 164.72,96.75 C164.73,95.74 164.74,94.72 164.75,93.70 C164.76,92.69 164.76,91.67 164.77,90.66 C164.78,89.64 164.79,88.62 164.79,87.61 C164.80,86.59 164.81,85.58 164.81,84.56 C164.82,83.54 164.82,82.53 164.83,81.51 C164.84,80.50 164.84,79.48 164.85,78.46 C164.86,77.45 164.86,76.43 164.87,75.42 C164.88,74.40 164.88,73.38 164.89,72.37 C164.90,71.35 164.91,70.34 164.92,69.32 C164.93,68.30 164.94,67.29 164.95,66.27 C164.96,65.26 164.97,64.24 164.98,63.22 C164.99,62.21 165.00,61.19 165.02,60.18 C165.03,59.16 165.05,58.14 165.06,57.13 C165.08,56.11 165.09,55.10 165.11,54.08 C165.13,53.07 165.15,52.05 165.17,51.03 C165.19,50.02 165.21,49.00 165.24,47.99 C165.26,46.97 165.29,45.95 165.31,44.94 C165.34,43.92 165.37,42.91 165.40,41.89 C165.43,40.88 165.46,39.86 165.49,38.85 C165.53,37.83 165.57,36.82 165.60,35.80" stroke="#ff00ff" stroke-width="2.4" fill="none" stroke-linecap="round" stroke-linejoin="round" />
<path d="M119.30,216.00 C120.25,215.63 121.22,215.30 122.15,214.88 C123.09,214.46 124.01,214.01 124.89,213.50 C125.78,213.00 126.65,212.46 127.48,211.86 C128.32,211.27 129.12,210.64 129.89,209.96 C130.65,209.29 131.39,208.57 132.07,207.81 C132.76,207.06 133.41,206.27 134.02,205.45 C134.63,204.63 135.20,203.77 135.73,202.90 C136.25,202.02 136.74,201.12 137.19,200.21 C137.64,199.29 138.06,198.35 138.44,197.40 C138.82,196.46 139.17,195.49 139.49,194.52 C139.81,193.55 140.10,192.57 140.36,191.58 C140.63,190.60 140.87,189.60 141.10,188.61 C141.32,187.61 141.52,186.60 141.70,185.60 C141.89,184.59 142.06,183.59 142.21,182.58 C142.37,181.57 142.51,180.55 142.64,179.54 C142.78,178.53 142.90,177.51 143.01,176.49 C143.13,175.48 143.24,174.46 143.34,173.44 C143.44,172.43 143.54,171.41 143.63,170.39 C143.73,169.37 143.81,168.36 143.89,167.34 C143.97,166.32 144.05,165.30 144.12,164.28 C144.19,163.26 144.26,162.24 144.32,161.22 C144.38,160.20 144.44,159.18 144.50,158.16 C144.55,157.13 144.60,156.11 144.65,155.09 C144.69,154.07 144.73,153.05 144.77,152.03 C144.81,151.01 144.85,149.98 144.88,148.96 C144.92,147.94 144.95,146.92 144.98,145.90 C145.00,144.88 145.03,143.85 145.05,142.83 C145.08,141.81 145.10,140.79 145.12,139.76 C145.14,138.74 145.16,137.72 145.18,136.70 C145.19,135.68 145.21,134.65 145.23,133.63 C145.24,132.61 145.26,131.59 145.27,130.57 C145.28,129.54 145.30,128.52 145.31,127.50 C145.32,126.48 145.34,125.45 145.35,124.43 C145.37,123.41 145.38,122.39 145.39,121.37 C145.41,120.34 145.42,119.32 145.44,118.30 C145.45,117.28 145.47,116.25 145.48,115.23 C145.50,114.21 145.52,113.19 145.53,112.17 C145.55,111.14 145.56,110.12 145.58,109.10 C145.60,108.08 145.61,107.05 145.63,106.03 C145.65,105.01 145.66,103.99 145.68,102.97 C145.70,101.94 145.71,100.92 145.73,99.90 C145.75,98.88 145.76,97.86 145.78,96.83 C145.80,95.81 145.82,94.79 145.83,93.77 C145.85,92.74 145.87,91.72 145.89,90.70 C145.90,89.68 145.92,88.66 145.94,87.63 C145.95,86.61 145.97,85.59 145.99,84.57 C146.01,83.54 146.02,82.52 146.04,81.50 C146.06,80.48 146.07,79.46 146.09,78.43 C146.11,77.41 146.12,76.39 146.14,75.37 C146.16,74.35 146.17,73.32 146.19,72.30 C146.21,71.28 146.22,70.26 146.24,69.23 C146.25,68.21 146.27,67.19 146.28,66.17 C146.30,65.15 146.31,64.12 146.33,63.10 C146.34,62.08 146.36,61.06 146.37,60.03 C146.39,59.01 146.40,57.99 146.41,56.97 C146.43,55.95 146.44,54.92 146.45,53.90 C146.47,52.88 146.48,51.86 146.49,50.83 C146.50,49.81 146.52,48.79 146.53,47.77 C146.54,46.75 146.55,45.72 146.56,44.70 C146.57,43.68 146.58,42.66 146.59,41.63 C146.60,40.61 146.61,39.59 146.62,38.57 C146.63,37.54 146.64,36.52 146.64,35.50 C146.65,34.48 146.66,33.46 146.67,32.43 C146.67,31.41 146.68,30.39 146.68,29.37 C146.69,28.34 146.69,27.32 146.70,26.30" stroke="#e4c644" stroke-width="2.4" fill="none" stroke-linecap="round" stroke-linejoin="round" />
<path d="M45.50,226.00 C46.55,225.95 47.59,225.90 48.64,225.85 C49.69,225.80 50.73,225.75 51.78,225.69 C52.82,225.64 53.87,225.59 54.92,225.54 C55.96,225.48 57.01,225.43 58.05,225.37 C59.10,225.31 60.15,225.25 61.19,225.19 C62.24,225.13 63.28,225.07 64.33,225.00 C65.37,224.94 66.42,224.87 67.46,224.80 C68.51,224.73 69.55,224.65 70.60,224.57 C71.64,224.49 72.69,224.41 73.73,224.32 C74.77,224.24 75.82,224.15 76.86,224.05 C77.90,223.95 78.95,223.85 79.99,223.75 C81.03,223.64 82.07,223.53 83.11,223.42 C84.15,223.30 85.20,223.18 86.23,223.05 C87.27,222.92 88.31,222.79 89.35,222.64 C90.39,222.50 91.43,222.36 92.46,222.20 C93.50,222.04 94.53,221.88 95.57,221.71 C96.60,221.54 97.63,221.36 98.66,221.18 C99.69,220.99 100.72,220.80 101.75,220.59 C102.78,220.39 103.80,220.18 104.83,219.96 C105.85,219.74 106.87,219.51 107.89,219.27 C108.91,219.03 109.93,218.78 110.95,218.52 C111.96,218.26 112.97,217.99 113.98,217.71 C114.99,217.43 116.00,217.14 117.00,216.84 C118.00,216.54 119.00,216.21 120.00,215.90" stroke="#ffff00" stroke-width="2.8" fill="none" stroke-linecap="round" stroke-linejoin="round" />
<line x1="45.50" y1="7.31" x2="45.50" y2="279.90" stroke="#000" stroke-width="1" />
<line x1="45.00" y1="279.50" x2="385.41" y2="279.50" stroke="#000" stroke-width="1" />
<line x1="45.50" y1="279.40" x2="49.00" y2="279.40" stroke="#000" stroke-width="1" />
<line x1="45.50" y1="240.53" x2="49.00" y2="240.53" stroke="#000" stroke-width="1" />
<line x1="45.50" y1="201.66" x2="49.00" y2="201.66" stroke="#000" stroke-width="1" />
<line x1="45.50" y1="162.79" x2="49.00" y2="162.79" stroke="#000" stroke-width="1" />
<line x1="45.50" y1="123.92" x2="49.00" y2="123.92" stroke="#000" stroke-width="1" />
<line x1="45.50" y1="85.05" x2="49.00" y2="85.05" stroke="#000" stroke-width="1" />
<line x1="45.50" y1="46.18" x2="49.00" y2="46.18" stroke="#000" stroke-width="1" />
<line x1="45.50" y1="7.31" x2="49.00" y2="7.31" stroke="#000" stroke-width="1" />
<line x1="45.50" y1="279.40" x2="45.50" y2="275.90" stroke="#000" stroke-width="1" />
<line x1="88.32" y1="279.40" x2="88.32" y2="275.90" stroke="#000" stroke-width="1" />
<line x1="118.70" y1="279.40" x2="118.70" y2="275.90" stroke="#000" stroke-width="1" />
<line x1="142.26" y1="279.40" x2="142.26" y2="275.90" stroke="#000" stroke-width="1" />
<line x1="161.51" y1="279.40" x2="161.51" y2="275.90" stroke="#000" stroke-width="1" />
<line x1="177.79" y1="279.40" x2="177.79" y2="275.90" stroke="#000" stroke-width="1" />
<line x1="191.89" y1="279.40" x2="191.89" y2="275.90" stroke="#000" stroke-width="1" />
<line x1="204.33" y1="279.40" x2="204.33" y2="275.90" stroke="#000" stroke-width="1" />
<line x1="215.46" y1="279.40" x2="215.46" y2="275.90" stroke="#000" stroke-width="1" />
<line x1="288.65" y1="279.40" x2="288.65" y2="275.90" stroke="#000" stroke-width="1" />
<line x1="331.47" y1="279.40" x2="331.47" y2="275.90" stroke="#000" stroke-width="1" />
<line x1="361.85" y1="279.40" x2="361.85" y2="275.90" stroke="#000" stroke-width="1" />
<line x1="385.41" y1="279.40" x2="385.41" y2="275.90" stroke="#000" stroke-width="1" />
<text x="42.40" y="284.50" font-size="14.2" text-anchor="end" font-family='"Liberation Sans", sans-serif' stroke="#000" stroke-width="0.25" >0</text>
<text x="42.40" y="245.63" font-size="14.2" text-anchor="end" font-family='"Liberation Sans", sans-serif' stroke="#000" stroke-width="0.25" >1</text>
<text x="42.40" y="206.76" font-size="14.2" text-anchor="end" font-family='"Liberation Sans", sans-serif' stroke="#000" stroke-width="0.25" >2</text>
<text x="42.40" y="167.89" font-size="14.2" text-anchor="end" font-family='"Liberation Sans", sans-serif' stroke="#000" stroke-width="0.25" >3</text>
<text x="42.40" y="129.02" font-size="14.2" text-anchor="end" font-family='"Liberation Sans", sans-serif' stroke="#000" stroke-width="0.25" >4</text>
<text x="42.40" y="90.15" font-size="14.2" text-anchor="end" font-family='"Liberation Sans", sans-serif' stroke="#000" stroke-width="0.25" >5</text>
<text x="42.40" y="51.28" font-size="14.2" text-anchor="end" font-family='"Liberation Sans", sans-serif' stroke="#000" stroke-width="0.25" >6</text>
<text x="42.40" y="12.41" font-size="14.2" text-anchor="end" font-family='"Liberation Sans", sans-serif' stroke="#000" stroke-width="0.25" >7</text>
<text x="45.50" y="292.60" font-size="12.6" text-anchor="middle" font-family='"Liberation Sans", sans-serif' stroke="#000" stroke-width="0.25" >0.2</text>
<text x="88.32" y="292.60" font-size="12.6" text-anchor="middle" font-family='"Liberation Sans", sans-serif' stroke="#000" stroke-width="0.25" >0.3</text>
<text x="118.70" y="292.60" font-size="12.6" text-anchor="middle" font-family='"Liberation Sans", sans-serif' stroke="#000" stroke-width="0.25" >0.4</text>
<text x="142.26" y="292.60" font-size="12.6" text-anchor="middle" font-family='"Liberation Sans", sans-serif' stroke="#000" stroke-width="0.25" >0.5</text>
<text x="177.79" y="292.60" font-size="12.6" text-anchor="middle" font-family='"Liberation Sans", sans-serif' stroke="#000" stroke-width="0.25" >0.7</text>
<text x="215.46" y="292.60" font-size="12.6" text-anchor="middle" font-family='"Liberation Sans", sans-serif' stroke="#000" stroke-width="0.25" >1</text>
<text x="288.65" y="292.60" font-size="12.6" text-anchor="middle" font-family='"Liberation Sans", sans-serif' stroke="#000" stroke-width="0.25" >2</text>
<text x="331.47" y="292.60" font-size="12.6" text-anchor="middle" font-family='"Liberation Sans", sans-serif' stroke="#000" stroke-width="0.25" >3</text>
<text x="361.85" y="292.60" font-size="12.6" text-anchor="middle" font-family='"Liberation Sans", sans-serif' stroke="#000" stroke-width="0.25" >4</text>
<text x="385.41" y="292.60" font-size="12.6" text-anchor="middle" font-family='"Liberation Sans", sans-serif' stroke="#000" stroke-width="0.25" >5</text>
<text x="110.50" y="315.30" font-size="13.65" text-anchor="start" font-family='"Liberation Sans", sans-serif' stroke="#000" stroke-width="0.25" >normalized excitation frequency, &#969;</text>
<text x="52.20" y="10.30" font-size="14.2" text-anchor="start" font-family='"Liberation Sans", sans-serif' stroke="#000" stroke-width="0.25" >(a)</text>
<text transform="translate(14.1,262.7) rotate(-90)" font-size="13.5" font-family='"Liberation Sans", sans-serif' stroke="#000" stroke-width="0.25">high orbit, bistable harvester response, r<tspan font-size="9" dy="2.4">1</tspan></text>
<text x="64.30" y="108.70" font-size="13.1" text-anchor="start" font-family='"Liberation Sans", sans-serif' stroke="#000" stroke-width="0.25" >w/ auxiliary</text>
<text x="64.30" y="124.67" font-size="13.1" text-anchor="start" font-family='"Liberation Sans", sans-serif' stroke="#000" stroke-width="0.25" >oscillator as</text>
<text x="64.30" y="140.64" font-size="13.1" text-anchor="start" font-family='"Liberation Sans", sans-serif' stroke="#000" stroke-width="0.25" >tuning ratio</text>
<text x="64.30" y="156.61" font-size="13.1" text-anchor="start" font-family='"Liberation Sans", sans-serif' stroke="#000" stroke-width="0.25" >increases</text>
<line x1="131.00" y1="130.50" x2="259.00" y2="142.70" stroke="#000" stroke-width="1.4" />
<path d="M265.00,143.30 L254.72,145.73 L257.63,142.60 L255.37,138.96 Z" fill="#000"/>
<rect x="285.5" y="131.5" width="101.8" height="136.2" fill="#fff" stroke="#8c8c8c" stroke-width="1"/>
<text x="288.60" y="144.30" font-size="12.5" text-anchor="start" font-family='"Liberation Sans", sans-serif' stroke="#000" stroke-width="0.25" >All sub-figs:</text>
<line x1="288.50" y1="155.50" x2="310.50" y2="155.50" stroke="#000" stroke-width="2.3" />
<text x="315.20" y="159.60" font-size="12.5" text-anchor="start" font-family='"Liberation Sans", sans-serif' stroke="#000" stroke-width="0.25" >individual</text>
<text x="288.20" y="173.90" font-size="12.5" text-anchor="start" font-family='"Liberation Sans", sans-serif' stroke="#000" stroke-width="0.25" >bistable harvester</text>
<text x="288.20" y="195.10" font-size="12.5" text-anchor="start" font-family='"Liberation Sans", sans-serif' stroke="#000" stroke-width="0.25" >w/ auxiliary linear</text>
<text x="288.20" y="209.70" font-size="12.5" text-anchor="start" font-family='"Liberation Sans", sans-serif' stroke="#000" stroke-width="0.25" >oscillator:</text>
<text x="351.60" y="209.70" font-size="13.5" text-anchor="middle" font-family='"Liberation Serif", serif' stroke="#000" stroke-width="0.25" font-style="italic">f</text>
<text x="363.20" y="212.00" font-size="16.5" text-anchor="middle" font-family='"Liberation Serif", serif' stroke="#000" stroke-width="0.25" >=</text>
<text x="292.20" y="227.00" font-size="14.5" text-anchor="middle" font-family='"Liberation Serif", serif' stroke="#000" stroke-width="0.25" font-style="italic">&#960;</text>
<text x="301.50" y="227.00" font-size="15" text-anchor="middle" font-family='"Liberation Serif", serif' stroke="#000" stroke-width="0.25" >/</text>
<text x="307.60" y="227.00" font-size="15.5" text-anchor="middle" font-family='"Liberation Serif", serif' stroke="#000" stroke-width="0.25" >[</text>
<text x="313.00" y="227.00" font-size="14" text-anchor="middle" font-family='"Liberation Serif", serif' stroke="#000" stroke-width="0.25" >1</text>
<text x="317.60" y="227.00" font-size="14" text-anchor="middle" font-family='"Liberation Serif", serif' stroke="#000" stroke-width="0.25" >,</text>
<text x="324.50" y="227.00" font-size="14" text-anchor="middle" font-family='"Liberation Serif", serif' stroke="#000" stroke-width="0.25" >2</text>
<text x="330.60" y="227.00" font-size="14" text-anchor="middle" font-family='"Liberation Serif", serif' stroke="#000" stroke-width="0.25" >,</text>
<text x="337.50" y="227.00" font-size="14" text-anchor="middle" font-family='"Liberation Serif", serif' stroke="#000" stroke-width="0.25" >3</text>
<text x="343.60" y="227.00" font-size="14" text-anchor="middle" font-family='"Liberation Serif", serif' stroke="#000" stroke-width="0.25" >,</text>
<text x="350.00" y="227.00" font-size="14" text-anchor="middle" font-family='"Liberation Serif", serif' stroke="#000" stroke-width="0.25" >4</text>
<text x="356.60" y="227.00" font-size="14" text-anchor="middle" font-family='"Liberation Serif", serif' stroke="#000" stroke-width="0.25" >,</text>
<text x="362.50" y="227.00" font-size="14" text-anchor="middle" font-family='"Liberation Serif", serif' stroke="#000" stroke-width="0.25" >5</text>
<text x="368.60" y="227.00" font-size="14" text-anchor="middle" font-family='"Liberation Serif", serif' stroke="#000" stroke-width="0.25" >,</text>
<text x="374.50" y="227.00" font-size="14" text-anchor="middle" font-family='"Liberation Serif", serif' stroke="#000" stroke-width="0.25" >6</text>
<text x="379.60" y="227.00" font-size="15.5" text-anchor="middle" font-family='"Liberation Serif", serif' stroke="#000" stroke-width="0.25" >]</text>
<line x1="311.40" y1="232.50" x2="311.40" y2="246.00" stroke="#ff0000" stroke-width="2" />
<line x1="324.60" y1="232.50" x2="324.60" y2="246.00" stroke="#00ff00" stroke-width="2" />
<line x1="337.80" y1="232.50" x2="337.80" y2="246.00" stroke="#0000ff" stroke-width="2" />
<line x1="350.80" y1="232.50" x2="350.80" y2="246.00" stroke="#00ffff" stroke-width="2" />
<line x1="364.00" y1="232.50" x2="364.00" y2="246.00" stroke="#ff00ff" stroke-width="2" />
<line x1="377.70" y1="232.50" x2="377.70" y2="246.00" stroke="#e4c644" stroke-width="2" />
<line x1="289.00" y1="260.80" x2="311.00" y2="260.80" stroke="#8a8a8a" stroke-width="1.3" />
<text x="316.20" y="264.00" font-size="12.5" text-anchor="start" font-family='"Liberation Sans", sans-serif' stroke="#000" stroke-width="0.25" >unstable</text>
<line x1="46.00" y1="570.50" x2="382.87" y2="570.50" stroke="#555" stroke-width="1" stroke-dasharray="1,4" shape-rendering="crispEdges"/>
<line x1="46.00" y1="557.50" x2="382.87" y2="557.50" stroke="#555" stroke-width="1" stroke-dasharray="1,4" shape-rendering="crispEdges"/>
<line x1="46.00" y1="547.50" x2="382.87" y2="547.50" stroke="#555" stroke-width="1" stroke-dasharray="1,4" shape-rendering="crispEdges"/>
<line x1="46.00" y1="539.50" x2="382.87" y2="539.50" stroke="#555" stroke-width="1" stroke-dasharray="1,4" shape-rendering="crispEdges"/>
<line x1="46.00" y1="533.50" x2="382.87" y2="533.50" stroke="#555" stroke-width="1" stroke-dasharray="1,4" shape-rendering="crispEdges"/>
<line x1="46.00" y1="528.50" x2="382.87" y2="528.50" stroke="#555" stroke-width="1" stroke-dasharray="1,4" shape-rendering="crispEdges"/>
<line x1="46.00" y1="523.50" x2="382.87" y2="523.50" stroke="#555" stroke-width="1" stroke-dasharray="1,4" shape-rendering="crispEdges"/>
<line x1="46.00" y1="519.50" x2="382.87" y2="519.50" stroke="#555" stroke-width="1" stroke-dasharray="1,4" shape-rendering="crispEdges"/>
<line x1="46.00" y1="516.50" x2="382.87" y2="516.50" stroke="#555" stroke-width="1" stroke-dasharray="1,4" shape-rendering="crispEdges"/>
<line x1="46.00" y1="492.50" x2="382.87" y2="492.50" stroke="#555" stroke-width="1" stroke-dasharray="1,4" shape-rendering="crispEdges"/>
<line x1="46.00" y1="479.50" x2="382.87" y2="479.50" stroke="#555" stroke-width="1" stroke-dasharray="1,4" shape-rendering="crispEdges"/>
<line x1="46.00" y1="469.50" x2="382.87" y2="469.50" stroke="#555" stroke-width="1" stroke-dasharray="1,4" shape-rendering="crispEdges"/>
<line x1="46.00" y1="461.50" x2="382.87" y2="461.50" stroke="#555" stroke-width="1" stroke-dasharray="1,4" shape-rendering="crispEdges"/>
<line x1="46.00" y1="455.50" x2="382.87" y2="455.50" stroke="#555" stroke-width="1" stroke-dasharray="1,4" shape-rendering="crispEdges"/>
<line x1="46.00" y1="450.50" x2="382.87" y2="450.50" stroke="#555" stroke-width="1" stroke-dasharray="1,4" shape-rendering="crispEdges"/>
<line x1="46.00" y1="445.50" x2="382.87" y2="445.50" stroke="#555" stroke-width="1" stroke-dasharray="1,4" shape-rendering="crispEdges"/>
<line x1="46.00" y1="441.50" x2="382.87" y2="441.50" stroke="#555" stroke-width="1" stroke-dasharray="1,4" shape-rendering="crispEdges"/>
<line x1="46.00" y1="438.50" x2="382.87" y2="438.50" stroke="#555" stroke-width="1" stroke-dasharray="1,4" shape-rendering="crispEdges"/>
<line x1="46.00" y1="414.50" x2="382.87" y2="414.50" stroke="#555" stroke-width="1" stroke-dasharray="1,4" shape-rendering="crispEdges"/>
<line x1="46.00" y1="401.50" x2="382.87" y2="401.50" stroke="#555" stroke-width="1" stroke-dasharray="1,4" shape-rendering="crispEdges"/>
<line x1="46.00" y1="391.50" x2="382.87" y2="391.50" stroke="#555" stroke-width="1" stroke-dasharray="1,4" shape-rendering="crispEdges"/>
<line x1="46.00" y1="383.50" x2="382.87" y2="383.50" stroke="#555" stroke-width="1" stroke-dasharray="1,4" shape-rendering="crispEdges"/>
<line x1="46.00" y1="377.50" x2="382.87" y2="377.50" stroke="#555" stroke-width="1" stroke-dasharray="1,4" shape-rendering="crispEdges"/>
<line x1="46.00" y1="372.50" x2="382.87" y2="372.50" stroke="#555" stroke-width="1" stroke-dasharray="1,4" shape-rendering="crispEdges"/>
<line x1="46.00" y1="367.50" x2="382.87" y2="367.50" stroke="#555" stroke-width="1" stroke-dasharray="1,4" shape-rendering="crispEdges"/>
<line x1="46.00" y1="363.50" x2="382.87" y2="363.50" stroke="#555" stroke-width="1" stroke-dasharray="1,4" shape-rendering="crispEdges"/>
<line x1="46.00" y1="360.50" x2="382.87" y2="360.50" stroke="#555" stroke-width="1" stroke-dasharray="1,4" shape-rendering="crispEdges"/>
<line x1="46.00" y1="336.50" x2="382.87" y2="336.50" stroke="#555" stroke-width="1" stroke-dasharray="1,4" shape-rendering="crispEdges"/>
<line x1="46.00" y1="323.50" x2="382.87" y2="323.50" stroke="#555" stroke-width="1" stroke-dasharray="1,4" shape-rendering="crispEdges"/>
<line x1="88.50" y1="594.00" x2="88.50" y2="322.60" stroke="#555" stroke-width="1" stroke-dasharray="1,4" shape-rendering="crispEdges"/>
<line x1="118.50" y1="594.00" x2="118.50" y2="322.60" stroke="#555" stroke-width="1" stroke-dasharray="1,4" shape-rendering="crispEdges"/>
<line x1="142.50" y1="594.00" x2="142.50" y2="322.60" stroke="#555" stroke-width="1" stroke-dasharray="1,4" shape-rendering="crispEdges"/>
<line x1="161.50" y1="594.00" x2="161.50" y2="322.60" stroke="#555" stroke-width="1" stroke-dasharray="1,4" shape-rendering="crispEdges"/>
<line x1="177.50" y1="594.00" x2="177.50" y2="322.60" stroke="#555" stroke-width="1" stroke-dasharray="1,4" shape-rendering="crispEdges"/>
<line x1="191.50" y1="594.00" x2="191.50" y2="322.60" stroke="#555" stroke-width="1" stroke-dasharray="1,4" shape-rendering="crispEdges"/>
<line x1="203.50" y1="594.00" x2="203.50" y2="322.60" stroke="#555" stroke-width="1" stroke-dasharray="1,4" shape-rendering="crispEdges"/>
<line x1="214.50" y1="594.00" x2="214.50" y2="322.60" stroke="#555" stroke-width="1" stroke-dasharray="1,4" shape-rendering="crispEdges"/>
<line x1="287.50" y1="594.00" x2="287.50" y2="322.60" stroke="#555" stroke-width="1" stroke-dasharray="1,4" shape-rendering="crispEdges"/>
<line x1="329.50" y1="594.00" x2="329.50" y2="322.60" stroke="#555" stroke-width="1" stroke-dasharray="1,4" shape-rendering="crispEdges"/>
<line x1="359.50" y1="594.00" x2="359.50" y2="322.60" stroke="#555" stroke-width="1" stroke-dasharray="1,4" shape-rendering="crispEdges"/>
<line x1="382.50" y1="594.00" x2="382.50" y2="322.60" stroke="#555" stroke-width="1" stroke-dasharray="1,4" shape-rendering="crispEdges"/>
<path d="M45.00,600.00 C47.27,598.00 48.78,596.41 51.80,594.00 C57.16,589.72 67.53,582.57 75.00,577.30 C81.89,572.44 88.81,567.76 95.00,563.50 C100.36,559.81 105.45,556.05 110.00,553.20 C113.62,550.93 116.93,549.60 120.00,547.50 C122.90,545.51 125.33,543.17 128.00,541.00" stroke="#7a7a7a" stroke-width="1.0" fill="none" stroke-linecap="round" stroke-linejoin="round" clip-path="url(#clipb)"/>
<path d="M86.00,600.00 C88.00,598.00 89.43,596.47 92.00,594.00 C96.36,589.80 103.24,583.57 110.00,577.30 C118.73,569.21 130.03,558.86 140.00,549.50 C150.03,540.09 160.04,530.63 170.00,521.00 C180.04,511.29 190.86,500.87 200.00,491.50 C207.99,483.31 214.67,475.83 222.00,468.00" stroke="#7a7a7a" stroke-width="2.4" fill="none" stroke-linecap="round" stroke-linejoin="round" clip-path="url(#clipb)"/>
<path d="M89.00,600.00 C90.87,598.00 92.08,596.48 94.60,594.00 C99.21,589.45 107.85,581.96 115.00,575.50 C122.90,568.36 131.32,560.95 140.00,553.00 C149.58,544.22 160.06,534.52 170.00,525.00 C180.06,515.36 191.41,504.59 200.00,495.50 C206.92,488.18 212.00,481.83 218.00,475.00" stroke="#7a7a7a" stroke-width="1.3" fill="none" stroke-linecap="round" stroke-linejoin="round" clip-path="url(#clipb)"/>
<path d="M126.60,560.10 C128.40,557.07 130.07,554.16 132.00,551.00 C134.14,547.49 136.49,543.42 138.90,540.00 C141.17,536.78 143.63,534.00 146.00,531.00" stroke="#7a7a7a" stroke-width="1.0" fill="none" stroke-linecap="round" stroke-linejoin="round" clip-path="url(#clipb)"/>
<path d="M137.40,550.90 C140.93,544.70 144.64,537.82 148.00,532.30 C150.78,527.73 153.33,524.10 156.00,520.00" stroke="#7a7a7a" stroke-width="1.0" fill="none" stroke-linecap="round" stroke-linejoin="round" clip-path="url(#clipb)"/>
<path d="M191.40,515.40 C197.60,508.77 203.75,502.43 210.00,495.50 C216.61,488.17 223.31,480.11 230.00,472.50 C236.65,464.94 243.52,456.95 250.00,450.00 C255.82,443.75 261.33,438.40 267.00,432.60" stroke="#7a7a7a" stroke-width="2.3" fill="none" stroke-linecap="round" stroke-linejoin="round" clip-path="url(#clipb)"/>
<path d="M198.00,511.50 C208.67,500.00 220.65,487.41 230.00,477.00 C237.52,468.62 243.73,461.32 250.00,454.00 C255.66,447.39 260.67,441.33 266.00,435.00" stroke="#7a7a7a" stroke-width="1.6" fill="none" stroke-linecap="round" stroke-linejoin="round" clip-path="url(#clipb)"/>
<path d="M139.00,600.00 C139.90,598.00 140.38,596.63 141.70,594.00 C144.39,588.63 150.62,577.60 155.00,570.00 C159.04,562.99 163.45,555.47 167.00,550.00 C169.57,546.04 171.91,542.99 174.00,540.00 C175.70,537.57 178.24,533.22 178.60,533.40 C179.06,533.64 175.50,541.39 174.10,546.00 C172.46,551.43 170.49,558.12 169.60,564.00 C168.77,569.50 169.00,574.80 168.70,580.20" stroke="#7a7a7a" stroke-width="1.1" fill="none" stroke-linecap="round" stroke-linejoin="round" clip-path="url(#clipb)"/>
<path d="M163.00,600.00 C164.00,598.00 164.77,596.70 166.00,594.00 C168.43,588.69 173.02,577.67 176.00,570.00 C178.69,563.06 180.71,556.14 183.20,550.00 C185.39,544.59 187.59,539.50 190.00,535.00 C192.09,531.08 196.19,524.20 196.60,524.40 C197.02,524.60 193.26,532.36 192.10,537.00 C190.74,542.41 189.86,548.84 189.40,555.00 C188.92,561.43 189.40,568.20 189.40,574.80" stroke="#7a7a7a" stroke-width="1.1" fill="none" stroke-linecap="round" stroke-linejoin="round" clip-path="url(#clipb)"/>
<path d="M196.50,600.00 C196.93,598.00 197.17,596.66 197.80,594.00 C199.07,588.66 202.03,578.33 204.00,570.00 C206.11,561.05 207.93,550.14 210.00,542.00 C211.63,535.60 213.28,529.79 215.00,525.00 C216.30,521.36 218.39,515.44 219.00,515.60 C219.98,515.85 216.87,533.39 216.20,542.40 C215.53,551.52 215.23,561.07 215.00,570.00 C214.78,578.41 214.87,586.33 214.80,594.50" stroke="#7a7a7a" stroke-width="1.1" fill="none" stroke-linecap="round" stroke-linejoin="round" clip-path="url(#clipb)"/>
<path d="M238.80,594.50 C239.87,588.00 241.02,581.91 242.00,575.00 C243.11,567.19 244.06,558.07 245.00,550.00 C245.88,542.43 246.73,534.67 247.50,528.00 C248.14,522.44 249.22,512.69 249.30,512.70 C249.39,512.71 248.14,524.71 247.80,530.00 C247.52,534.47 247.47,538.27 247.30,542.40" stroke="#7a7a7a" stroke-width="1.1" fill="none" stroke-linecap="round" stroke-linejoin="round" clip-path="url(#clipb)"/>
<path d="M248.00,556.00 L248.20,594.50" stroke="#7a7a7a" stroke-width="1.1" fill="none" stroke-linecap="round" stroke-linejoin="round" clip-path="url(#clipb)"/>
<path d="M291.20,594.50 C291.50,586.33 291.87,578.51 292.10,570.00 C292.35,560.74 292.40,541.00 292.60,541.00 C292.80,541.00 292.96,560.74 293.30,570.00 C293.61,578.51 294.10,586.33 294.50,594.50" stroke="#7a7a7a" stroke-width="1.1" fill="none" stroke-linecap="round" stroke-linejoin="round" clip-path="url(#clipb)"/>
<path d="M146.60,455.00 C146.40,460.00 146.28,464.64 146.00,470.00 C145.68,476.19 145.35,484.19 144.70,490.00 C144.20,494.52 143.45,498.19 142.80,502.00 C142.21,505.49 141.74,508.77 141.00,512.00 C140.29,515.10 139.49,518.02 138.50,521.00 C137.49,524.03 136.56,526.93 135.00,530.00 C133.19,533.57 130.33,537.33 128.00,541.00" stroke="#8a8a8a" stroke-width="0.9" fill="none" stroke-linecap="round" stroke-linejoin="round" />
<path d="M165.80,450.00 C165.53,455.00 165.39,459.85 165.00,465.00 C164.58,470.49 164.05,476.84 163.30,482.00 C162.67,486.36 161.82,490.11 161.00,494.00 C160.22,497.70 159.75,501.53 158.50,504.80 C157.35,507.81 155.71,510.34 154.00,513.00 C152.23,515.75 150.00,518.33 148.00,521.00" stroke="#8a8a8a" stroke-width="0.9" fill="none" stroke-linecap="round" stroke-linejoin="round" />
<path d="M188.60,420.00 C188.23,426.67 188.04,433.52 187.50,440.00 C186.99,446.17 186.41,452.40 185.50,458.00 C184.69,462.98 183.80,467.56 182.50,472.00 C181.27,476.20 179.81,480.26 178.00,484.00 C176.28,487.57 174.18,490.82 172.00,494.00 C169.84,497.15 167.33,500.00 165.00,503.00" stroke="#8a8a8a" stroke-width="0.9" fill="none" stroke-linecap="round" stroke-linejoin="round" />
<path d="M217.80,400.00 C217.37,406.67 217.21,413.83 216.50,420.00 C215.88,425.38 215.07,430.31 214.00,435.00 C213.03,439.25 211.93,443.14 210.50,447.00 C209.09,450.80 207.42,454.49 205.50,458.00 C203.59,461.49 201.32,464.93 199.00,468.00 C196.81,470.90 194.33,473.33 192.00,476.00" stroke="#8a8a8a" stroke-width="0.9" fill="none" stroke-linecap="round" stroke-linejoin="round" />
<path d="M46.50,584.90 C47.36,584.36 48.21,583.81 49.07,583.27 C49.93,582.73 50.79,582.18 51.64,581.64 C52.50,581.09 53.35,580.54 54.21,580.00 C55.06,579.45 55.92,578.90 56.77,578.35 C57.62,577.80 58.48,577.25 59.33,576.70 C60.18,576.15 61.03,575.59 61.88,575.04 C62.73,574.48 63.58,573.93 64.43,573.37 C65.28,572.82 66.13,572.26 66.98,571.70 C67.82,571.14 68.67,570.58 69.52,570.02 C70.36,569.46 71.21,568.90 72.05,568.34 C72.90,567.77 73.74,567.21 74.58,566.64 C75.43,566.08 76.27,565.51 77.11,564.94 C77.95,564.38 78.79,563.81 79.63,563.24 C80.47,562.67 81.31,562.10 82.15,561.53 C82.99,560.95 83.83,560.38 84.67,559.81 C85.50,559.23 86.34,558.66 87.18,558.08 C88.01,557.51 88.85,556.93 89.68,556.35 C90.51,555.77 91.35,555.19 92.18,554.61 C93.01,554.03 93.84,553.45 94.67,552.86 C95.51,552.28 96.34,551.70 97.16,551.11 C97.99,550.53 98.82,549.94 99.65,549.35 C100.48,548.76 101.30,548.18 102.13,547.59 C102.96,547.00 103.78,546.40 104.61,545.81 C105.43,545.22 106.25,544.63 107.08,544.03 C107.90,543.44 108.72,542.84 109.54,542.24 C110.36,541.65 111.18,541.05 112.00,540.45 C112.82,539.85 113.64,539.25 114.46,538.65 C115.28,538.05 116.09,537.44 116.91,536.84 C117.72,536.24 118.54,535.63 119.35,535.03 C120.17,534.42 120.98,533.81 121.79,533.20 C122.61,532.59 123.42,531.98 124.23,531.37 C125.04,530.76 125.85,530.15 126.66,529.54 C127.47,528.92 128.27,528.31 129.08,527.69 C129.89,527.08 130.70,526.46 131.50,525.84 C132.31,525.23 133.11,524.61 133.91,523.99 C134.72,523.37 135.52,522.74 136.32,522.12 C137.12,521.50 137.92,520.87 138.72,520.25 C139.52,519.62 140.32,519.00 141.12,518.37 C141.92,517.74 142.71,517.11 143.51,516.48 C144.31,515.85 145.10,515.22 145.89,514.59 C146.69,513.96 147.48,513.32 148.27,512.69 C149.07,512.05 149.86,511.42 150.65,510.78 C151.44,510.14 152.23,509.51 153.01,508.87 C153.80,508.23 154.59,507.58 155.38,506.94 C156.16,506.30 156.95,505.66 157.73,505.01 C158.52,504.37 159.30,503.72 160.08,503.08 C160.86,502.43 161.65,501.78 162.43,501.13 C163.21,500.48 163.98,499.83 164.76,499.18 C165.54,498.53 166.32,497.87 167.09,497.22 C167.87,496.57 168.65,495.91 169.42,495.25 C170.19,494.60 170.97,493.94 171.74,493.28 C172.51,492.62 173.28,491.96 174.05,491.30 C174.82,490.64 175.59,489.97 176.36,489.31 C177.13,488.65 177.89,487.98 178.66,487.32 C179.42,486.65 180.19,485.98 180.95,485.31 C181.72,484.65 182.48,483.98 183.24,483.31 C184.01,482.64 184.77,481.97 185.53,481.29 C186.29,480.62 187.05,479.95 187.81,479.27 C188.57,478.60 189.32,477.92 190.08,477.25 C190.84,476.57 191.59,475.89 192.35,475.22 C193.11,474.54 193.86,473.86 194.61,473.18 C195.37,472.50 196.12,471.82 196.87,471.14 C197.63,470.46 198.38,469.77 199.13,469.09 C199.88,468.41 200.63,467.72 201.38,467.04 C202.13,466.36 202.88,465.67 203.63,464.98 C204.37,464.30 205.12,463.61 205.87,462.92 C206.62,462.24 207.36,461.55 208.11,460.86 C208.85,460.17 209.60,459.48 210.34,458.79 C211.09,458.10 211.83,457.41 212.57,456.72 C213.32,456.03 214.06,455.33 214.80,454.64 C215.54,453.95 216.28,453.26 217.03,452.56 C217.77,451.87 218.51,451.17 219.25,450.48 C219.99,449.79 220.73,449.09 221.47,448.39 C222.21,447.70 222.94,447.00 223.68,446.31 C224.42,445.61 225.16,444.91 225.90,444.21 C226.63,443.52 227.37,442.82 228.11,442.12 C228.84,441.42 229.58,440.72 230.32,440.02 C231.05,439.33 231.79,438.63 232.52,437.93 C233.26,437.23 233.99,436.53 234.73,435.83 C235.46,435.13 236.20,434.42 236.93,433.72 C237.67,433.02 238.40,432.32 239.13,431.62 C239.87,430.92 240.60,430.22 241.33,429.52 C242.07,428.81 242.80,428.11 243.53,427.41 C244.27,426.71 245.00,426.00 245.73,425.30 C246.47,424.60 247.20,423.90 247.93,423.19 C248.66,422.49 249.39,421.79 250.13,421.08 C250.86,420.38 251.59,419.68 252.32,418.97 C253.06,418.27 253.79,417.57 254.52,416.87 C255.25,416.16 255.98,415.46 256.71,414.76 C257.45,414.05 258.18,413.35 258.91,412.65 C259.64,411.94 260.37,411.24 261.11,410.54 C261.84,409.83 262.57,409.13 263.30,408.43 C264.04,407.72 264.77,407.02 265.50,406.32 C266.23,405.61 266.96,404.91 267.70,404.21 C268.43,403.51 269.16,402.80 269.90,402.10 C270.63,401.40 271.36,400.70 272.10,400.00" stroke="#000" stroke-width="3.9" fill="none" stroke-linecap="round" stroke-linejoin="round" clip-path="url(#clipb)"/>
<path d="M56.90,600.00 C57.65,599.33 58.40,598.65 59.16,597.98 C59.92,597.31 60.68,596.65 61.44,595.99 C62.21,595.33 62.97,594.68 63.75,594.02 C64.52,593.37 65.30,592.73 66.07,592.09 C66.85,591.44 67.64,590.80 68.42,590.17 C69.21,589.54 70.00,588.91 70.79,588.28 C71.58,587.65 72.37,587.03 73.17,586.41 C73.97,585.79 74.77,585.17 75.57,584.56 C76.37,583.94 77.18,583.33 77.98,582.73 C78.79,582.12 79.60,581.51 80.41,580.91 C81.22,580.31 82.03,579.71 82.85,579.11 C83.66,578.51 84.48,577.92 85.29,577.33 C86.11,576.73 86.93,576.14 87.75,575.56 C88.57,574.97 89.39,574.38 90.22,573.79 C91.04,573.21 91.86,572.63 92.69,572.04 C93.51,571.46 94.34,570.88 95.16,570.30 C95.99,569.72 96.82,569.14 97.65,568.56 C98.47,567.99 99.30,567.41 100.13,566.83 C100.96,566.25 101.79,565.68 102.62,565.10 C103.45,564.53 104.28,563.95 105.11,563.38 C105.94,562.80 106.77,562.22 107.60,561.65 C108.43,561.07 109.26,560.50 110.08,559.92 C110.91,559.34 111.74,558.77 112.57,558.19 C113.40,557.61 114.23,557.03 115.05,556.45 C115.88,555.87 116.71,555.29 117.53,554.71 C118.36,554.13 119.18,553.54 120.00,552.96 C120.83,552.37 121.65,551.78 122.47,551.20 C123.29,550.61 124.11,550.02 124.93,549.42 C125.74,548.83 126.56,548.24 127.37,547.64 C128.19,547.04 129.00,546.44 129.81,545.84 C130.62,545.24 131.43,544.64 132.24,544.03 C133.04,543.42 133.85,542.81 134.65,542.20 C135.45,541.58 136.25,540.97 137.05,540.35 C137.85,539.73 138.64,539.10 139.43,538.48 C140.23,537.85 141.02,537.22 141.80,536.59 C142.59,535.96 143.37,535.32 144.16,534.68 C144.94,534.04 145.72,533.40 146.50,532.76 C147.27,532.11 148.05,531.47 148.82,530.81 C149.59,530.16 150.36,529.51 151.13,528.85 C151.90,528.20 152.66,527.54 153.42,526.88 C154.19,526.21 154.95,525.55 155.70,524.88 C156.46,524.22 157.22,523.54 157.97,522.87 C158.72,522.20 159.47,521.52 160.22,520.85 C160.97,520.17 161.72,519.49 162.46,518.81 C163.21,518.12 163.95,517.44 164.69,516.75 C165.43,516.06 166.16,515.37 166.90,514.68 C167.63,513.99 168.36,513.29 169.10,512.59 C169.83,511.90 170.55,511.20 171.28,510.50 C172.01,509.79 172.73,509.09 173.45,508.38 C174.17,507.68 174.89,506.97 175.61,506.26 C176.33,505.55 177.04,504.84 177.76,504.12 C178.47,503.41 179.18,502.69 179.89,501.97 C180.60,501.25 181.31,500.53 182.02,499.81 C182.72,499.09 183.43,498.36 184.13,497.64 C184.83,496.91 185.53,496.18 186.23,495.45 C186.92,494.72 187.62,493.99 188.32,493.26 C189.01,492.53 189.70,491.79 190.39,491.06 C191.08,490.32 191.77,489.58 192.46,488.84 C193.15,488.10 193.83,487.36 194.52,486.62 C195.20,485.87 195.88,485.13 196.56,484.38 C197.24,483.64 197.92,482.89 198.60,482.14 C199.28,481.39 199.95,480.64 200.63,479.89 C201.30,479.14 201.97,478.38 202.64,477.63 C203.31,476.87 203.98,476.12 204.65,475.36 C205.32,474.60 205.99,473.85 206.65,473.09 C207.32,472.33 207.98,471.57 208.65,470.81 C209.31,470.05 209.98,469.28 210.64,468.52 C211.30,467.76 211.96,467.00 212.62,466.23 C213.28,465.47 213.94,464.70 214.60,463.94 C215.26,463.17 215.92,462.41 216.58,461.64 C217.24,460.88 217.89,460.11 218.55,459.34 C219.21,458.58 219.87,457.81 220.52,457.04 C221.18,456.28 221.84,455.51 222.49,454.74 C223.15,453.98 223.81,453.21 224.46,452.44 C225.12,451.67 225.78,450.91 226.43,450.14 C227.09,449.37 227.75,448.61 228.40,447.84 C229.06,447.07 229.72,446.31 230.38,445.54 C231.04,444.78 231.69,444.01 232.35,443.25 C233.01,442.48 233.67,441.72 234.33,440.95 C234.99,440.19 235.65,439.42 236.31,438.66 C236.97,437.90 237.64,437.13 238.30,436.37 C238.96,435.61 239.62,434.84 240.28,434.08 C240.94,433.32 241.60,432.55 242.26,431.79 C242.92,431.03 243.58,430.26 244.24,429.50 C244.90,428.73 245.56,427.97 246.22,427.21 C246.88,426.44 247.54,425.68 248.20,424.91 C248.86,424.14 249.52,423.38 250.17,422.61 C250.83,421.85 251.49,421.08 252.14,420.31 C252.80,419.54 253.45,418.77 254.11,418.00 C254.76,417.24 255.42,416.47 256.07,415.69 C256.72,414.92 257.37,414.15 258.02,413.38 C258.67,412.61 259.32,411.83 259.97,411.06 C260.61,410.28 261.26,409.51 261.90,408.73 C262.55,407.95 263.19,407.17 263.83,406.39 C264.47,405.61 265.11,404.83 265.75,404.05 C266.39,403.26 267.03,402.48 267.66,401.70 C268.30,400.91 268.93,400.12 269.56,399.33 C270.19,398.54 270.82,397.75 271.44,396.96 C272.07,396.17 272.69,395.38 273.32,394.58 C273.94,393.79 274.56,392.99 275.18,392.19 C275.79,391.39 276.41,390.59 277.02,389.79 C277.63,388.98 278.24,388.18 278.85,387.37 C279.46,386.57 280.06,385.76 280.66,384.95 C281.27,384.13 281.86,383.32 282.46,382.51 C283.06,381.69 283.65,380.87 284.24,380.05 C284.83,379.24 285.42,378.41 286.00,377.59 C286.58,376.77 287.16,375.94 287.74,375.11 C288.32,374.28 288.89,373.45 289.46,372.62 C290.03,371.78 290.60,370.95 291.16,370.11 C291.72,369.27 292.28,368.43 292.84,367.59 C293.39,366.74 293.95,365.90 294.49,365.05 C295.04,364.20 295.59,363.35 296.13,362.50 C296.67,361.64 297.20,360.79 297.73,359.93 C298.26,359.07 298.79,358.21 299.31,357.35 C299.84,356.48 300.36,355.61 300.87,354.75 C301.38,353.88 301.89,353.00 302.40,352.13 C302.90,351.26 303.40,350.38 303.90,349.50" stroke="#ff0000" stroke-width="2.4" fill="none" stroke-linecap="round" stroke-linejoin="round" clip-path="url(#clipb)"/>
<path d="M56.70,600.00 C57.50,599.38 58.29,598.76 59.09,598.14 C59.89,597.52 60.69,596.90 61.49,596.28 C62.29,595.66 63.09,595.05 63.88,594.43 C64.68,593.81 65.48,593.20 66.29,592.58 C67.09,591.97 67.89,591.35 68.69,590.74 C69.49,590.12 70.29,589.51 71.09,588.89 C71.89,588.28 72.70,587.67 73.50,587.05 C74.30,586.44 75.10,585.83 75.91,585.21 C76.71,584.60 77.51,583.99 78.31,583.38 C79.12,582.76 79.92,582.15 80.72,581.54 C81.53,580.93 82.33,580.32 83.13,579.70 C83.94,579.09 84.74,578.48 85.54,577.87 C86.35,577.26 87.15,576.64 87.95,576.03 C88.76,575.42 89.56,574.81 90.36,574.20 C91.17,573.58 91.97,572.97 92.77,572.36 C93.57,571.75 94.38,571.13 95.18,570.52 C95.98,569.91 96.78,569.29 97.59,568.68 C98.39,568.07 99.19,567.45 99.99,566.84 C100.79,566.23 101.59,565.61 102.40,565.00 C103.20,564.38 104.00,563.77 104.80,563.15 C105.60,562.53 106.40,561.92 107.20,561.30 C108.00,560.68 108.79,560.07 109.59,559.45 C110.39,558.83 111.19,558.21 111.99,557.59 C112.78,556.97 113.58,556.35 114.38,555.73 C115.17,555.11 115.97,554.49 116.76,553.87 C117.56,553.24 118.35,552.62 119.15,552.00 C119.94,551.37 120.74,550.75 121.53,550.12 C122.32,549.50 123.11,548.87 123.90,548.24 C124.69,547.61 125.48,546.98 126.27,546.35 C127.06,545.73 127.85,545.09 128.64,544.46 C129.43,543.83 130.21,543.20 131.00,542.56 C131.79,541.93 132.57,541.30 133.36,540.66 C134.14,540.02 134.92,539.38 135.70,538.75 C136.49,538.11 137.27,537.47 138.05,536.83 C138.83,536.18 139.61,535.54 140.38,534.90 C141.16,534.25 141.94,533.61 142.71,532.96 C143.49,532.32 144.26,531.67 145.04,531.02 C145.81,530.37 146.58,529.72 147.35,529.06 C148.12,528.41 148.89,527.76 149.66,527.10 C150.43,526.45 151.20,525.79 151.96,525.13 C152.73,524.47 153.49,523.81 154.25,523.15 C155.01,522.49 155.78,521.82 156.53,521.16 C157.29,520.49 158.05,519.82 158.81,519.15 C159.56,518.48 160.32,517.81 161.07,517.14 C161.82,516.47 162.58,515.79 163.33,515.12 C164.08,514.44 164.82,513.76 165.57,513.08 C166.32,512.40 167.06,511.72 167.80,511.03 C168.55,510.35 169.29,509.66 170.03,508.98 C170.76,508.29 171.50,507.60 172.24,506.90 C172.97,506.21 173.70,505.52 174.44,504.82 C175.17,504.12 175.90,503.43 176.62,502.73 C177.35,502.02 178.07,501.32 178.80,500.62 C179.52,499.91 180.24,499.20 180.96,498.49 C181.68,497.78 182.39,497.07 183.11,496.36 C183.82,495.64 184.53,494.93 185.24,494.21 C185.95,493.49 186.66,492.77 187.36,492.05 C188.07,491.32 188.77,490.60 189.47,489.87 C190.17,489.14 190.87,488.41 191.56,487.68 C192.25,486.94 192.95,486.21 193.64,485.47 C194.33,484.73 195.01,483.99 195.70,483.25 C196.38,482.51 197.06,481.76 197.74,481.01 C198.42,480.26 199.09,479.51 199.76,478.76 C200.44,478.01 201.11,477.25 201.77,476.49 C202.44,475.73 203.10,474.97 203.76,474.21 C204.42,473.44 205.08,472.67 205.73,471.90 C206.39,471.13 207.04,470.36 207.68,469.59 C208.33,468.81 208.97,468.03 209.61,467.25 C210.25,466.47 210.88,465.68 211.52,464.90 C212.15,464.11 212.78,463.32 213.40,462.52 C214.02,461.73 214.65,460.93 215.26,460.13 C215.88,459.33 216.49,458.53 217.10,457.72 C217.71,456.92 218.31,456.11 218.91,455.29 C219.51,454.48 220.10,453.67 220.69,452.85 C221.28,452.03 221.87,451.21 222.45,450.38 C223.03,449.55 223.61,448.72 224.18,447.89 C224.75,447.06 225.32,446.22 225.88,445.38 C226.44,444.55 227.00,443.70 227.55,442.86 C228.10,442.01 228.65,441.16 229.19,440.31 C229.73,439.46 230.26,438.60 230.79,437.74 C231.32,436.88 231.85,436.02 232.37,435.15 C232.88,434.28 233.40,433.41 233.90,432.54 C234.41,431.67 234.91,430.79 235.41,429.91 C235.90,429.03 236.39,428.15 236.87,427.26 C237.35,426.37 237.83,425.48 238.30,424.59 C238.77,423.69 239.23,422.79 239.69,421.89 C240.14,420.99 240.59,420.09 241.03,419.18 C241.48,418.27 241.91,417.36 242.34,416.45 C242.77,415.53 243.19,414.61 243.60,413.69 C244.02,412.77 244.42,411.85 244.82,410.92 C245.22,409.99 245.61,409.06 246.00,408.13 C246.38,407.19 246.75,406.26 247.12,405.32 C247.49,404.38 247.85,403.43 248.20,402.49 C248.55,401.54 248.90,400.59 249.23,399.64 C249.57,398.68 249.90,397.73 250.22,396.77 C250.54,395.81 250.85,394.85 251.15,393.89 C251.45,392.93 251.74,391.96 252.03,390.99 C252.31,390.02 252.59,389.05 252.85,388.08 C253.12,387.10 253.38,386.13 253.63,385.15 C253.88,384.17 254.12,383.19 254.35,382.20 C254.58,381.22 254.80,380.24 255.01,379.25 C255.22,378.26 255.43,377.27 255.62,376.28 C255.81,375.29 256.00,374.30 256.17,373.30 C256.35,372.31 256.51,371.31 256.67,370.31 C256.82,369.32 256.97,368.32 257.11,367.32 C257.24,366.32 257.37,365.31 257.49,364.31 C257.60,363.31 257.70,362.30 257.81,361.30" stroke="#00ff00" stroke-width="2.4" fill="none" stroke-linecap="round" stroke-linejoin="round" clip-path="url(#clipb)"/>
<path d="M56.50,600.00 C57.29,599.37 58.08,598.73 58.87,598.10 C59.66,597.47 60.45,596.84 61.25,596.21 C62.04,595.58 62.83,594.96 63.63,594.33 C64.42,593.71 65.22,593.08 66.02,592.46 C66.82,591.84 67.61,591.21 68.41,590.59 C69.21,589.97 70.01,589.35 70.81,588.73 C71.61,588.12 72.41,587.50 73.22,586.88 C74.02,586.26 74.82,585.65 75.62,585.03 C76.43,584.41 77.23,583.80 78.03,583.19 C78.84,582.57 79.64,581.96 80.45,581.34 C81.25,580.73 82.06,580.12 82.86,579.50 C83.67,578.89 84.47,578.28 85.28,577.67 C86.09,577.06 86.89,576.44 87.70,575.83 C88.50,575.22 89.31,574.61 90.12,574.00 C90.92,573.39 91.73,572.77 92.54,572.16 C93.34,571.55 94.15,570.94 94.95,570.33 C95.76,569.71 96.56,569.10 97.37,568.49 C98.18,567.88 98.98,567.26 99.79,566.65 C100.59,566.03 101.39,565.42 102.20,564.81 C103.00,564.19 103.81,563.58 104.61,562.96 C105.41,562.34 106.21,561.73 107.01,561.11 C107.82,560.49 108.62,559.87 109.42,559.25 C110.22,558.63 111.02,558.01 111.82,557.39 C112.61,556.77 113.41,556.15 114.21,555.52 C115.00,554.90 115.80,554.27 116.60,553.65 C117.39,553.02 118.18,552.39 118.98,551.77 C119.77,551.14 120.56,550.51 121.35,549.87 C122.14,549.24 122.93,548.61 123.72,547.97 C124.51,547.34 125.29,546.70 126.08,546.06 C126.86,545.42 127.65,544.78 128.43,544.14 C129.21,543.50 129.99,542.85 130.77,542.21 C131.55,541.56 132.32,540.91 133.10,540.26 C133.88,539.61 134.65,538.96 135.42,538.31 C136.19,537.65 136.96,536.99 137.73,536.33 C138.50,535.68 139.26,535.01 140.03,534.35 C140.79,533.69 141.55,533.02 142.31,532.35 C143.07,531.68 143.83,531.01 144.58,530.34 C145.34,529.66 146.09,528.99 146.84,528.31 C147.59,527.63 148.34,526.95 149.09,526.26 C149.83,525.58 150.57,524.89 151.31,524.20 C152.05,523.51 152.79,522.82 153.53,522.12 C154.26,521.42 154.99,520.73 155.72,520.02 C156.45,519.32 157.18,518.62 157.90,517.91 C158.62,517.20 159.34,516.49 160.06,515.77 C160.77,515.06 161.49,514.34 162.20,513.62 C162.91,512.90 163.62,512.18 164.32,511.45 C165.02,510.72 165.72,509.99 166.42,509.26 C167.12,508.52 167.81,507.79 168.50,507.05 C169.19,506.30 169.87,505.56 170.55,504.81 C171.24,504.06 171.91,503.31 172.59,502.56 C173.26,501.80 173.93,501.04 174.60,500.28 C175.26,499.52 175.92,498.75 176.58,497.98 C177.23,497.21 177.89,496.44 178.53,495.66 C179.18,494.88 179.82,494.10 180.46,493.31 C181.09,492.52 181.73,491.73 182.35,490.94 C182.98,490.14 183.60,489.34 184.21,488.54 C184.83,487.74 185.44,486.93 186.04,486.12 C186.65,485.31 187.25,484.49 187.84,483.67 C188.43,482.85 189.01,482.02 189.59,481.19 C190.17,480.36 190.75,479.53 191.31,478.69 C191.88,477.85 192.44,477.01 192.99,476.16 C193.54,475.31 194.08,474.46 194.62,473.60 C195.16,472.74 195.69,471.88 196.21,471.01 C196.73,470.15 197.25,469.27 197.75,468.40 C198.26,467.52 198.76,466.64 199.25,465.75 C199.73,464.87 200.22,463.98 200.69,463.08 C201.16,462.19 201.62,461.29 202.08,460.38 C202.53,459.48 202.97,458.57 203.41,457.66 C203.84,456.74 204.27,455.82 204.68,454.90 C205.10,453.98 205.50,453.05 205.90,452.12 C206.29,451.19 206.68,450.25 207.05,449.31 C207.42,448.37 207.79,447.42 208.14,446.48 C208.49,445.53 208.84,444.58 209.17,443.62 C209.50,442.67 209.83,441.71 210.14,440.74 C210.45,439.78 210.75,438.82 211.05,437.85 C211.34,436.88 211.62,435.91 211.89,434.93 C212.17,433.96 212.43,432.98 212.68,432.00 C212.93,431.02 213.17,430.04 213.41,429.05 C213.64,428.07 213.86,427.08 214.07,426.09 C214.28,425.10 214.48,424.11 214.68,423.11 C214.87,422.12 215.05,421.12 215.22,420.13 C215.39,419.13 215.56,418.13 215.71,417.13 C215.86,416.13 216.00,415.13 216.14,414.13 C216.27,413.12 216.39,412.12 216.51,411.11 C216.62,410.11 216.72,409.10 216.82,408.09 C216.91,407.09 217.00,406.08 217.07,405.07 C217.15,404.06 217.21,403.05 217.27,402.04 C217.33,401.03 217.37,400.02 217.41,399.01 C217.45,397.99 217.48,396.98 217.50,395.97 C217.52,394.96 217.52,393.95 217.53,392.94 C217.53,391.92 217.51,390.91 217.50,389.90" stroke="#0000ff" stroke-width="2.4" fill="none" stroke-linecap="round" stroke-linejoin="round" clip-path="url(#clipb)"/>
<path d="M56.00,600.00 C56.77,599.33 57.54,598.65 58.31,597.98 C59.08,597.31 59.85,596.64 60.63,595.98 C61.41,595.32 62.20,594.66 62.98,594.00 C63.77,593.35 64.55,592.70 65.35,592.05 C66.14,591.40 66.93,590.76 67.73,590.12 C68.52,589.48 69.32,588.84 70.13,588.21 C70.93,587.57 71.73,586.94 72.54,586.31 C73.34,585.68 74.15,585.05 74.96,584.43 C75.77,583.80 76.58,583.18 77.39,582.56 C78.20,581.94 79.01,581.32 79.83,580.70 C80.64,580.09 81.46,579.47 82.28,578.86 C83.09,578.24 83.91,577.63 84.73,577.02 C85.55,576.40 86.37,575.79 87.19,575.18 C88.01,574.57 88.83,573.96 89.65,573.35 C90.47,572.74 91.29,572.13 92.11,571.53 C92.93,570.92 93.76,570.31 94.58,569.70 C95.40,569.09 96.22,568.48 97.04,567.87 C97.86,567.26 98.68,566.65 99.50,566.04 C100.32,565.43 101.14,564.82 101.96,564.21 C102.78,563.60 103.60,562.99 104.42,562.37 C105.23,561.76 106.05,561.14 106.86,560.53 C107.68,559.91 108.49,559.29 109.31,558.67 C110.12,558.05 110.93,557.43 111.74,556.81 C112.55,556.18 113.36,555.56 114.17,554.93 C114.97,554.30 115.78,553.67 116.58,553.04 C117.38,552.40 118.18,551.77 118.98,551.13 C119.78,550.49 120.57,549.85 121.37,549.20 C122.16,548.56 122.95,547.91 123.74,547.26 C124.53,546.61 125.31,545.96 126.10,545.30 C126.88,544.64 127.66,543.98 128.43,543.31 C129.21,542.65 129.98,541.98 130.75,541.30 C131.52,540.63 132.29,539.95 133.05,539.27 C133.81,538.59 134.57,537.90 135.32,537.21 C136.07,536.52 136.82,535.82 137.57,535.12 C138.31,534.42 139.05,533.72 139.78,533.01 C140.52,532.29 141.25,531.58 141.97,530.86 C142.70,530.14 143.42,529.41 144.13,528.68 C144.84,527.94 145.55,527.21 146.25,526.46 C146.95,525.72 147.65,524.97 148.34,524.21 C149.03,523.46 149.71,522.70 150.38,521.93 C151.06,521.16 151.73,520.39 152.39,519.61 C153.05,518.83 153.70,518.04 154.35,517.25 C154.99,516.46 155.63,515.66 156.26,514.85 C156.89,514.05 157.51,513.24 158.12,512.42 C158.74,511.60 159.34,510.78 159.94,509.95 C160.54,509.12 161.13,508.28 161.70,507.44 C162.28,506.60 162.86,505.75 163.42,504.90 C163.98,504.04 164.54,503.18 165.08,502.32 C165.63,501.45 166.16,500.58 166.69,499.71 C167.22,498.83 167.74,497.95 168.25,497.06 C168.76,496.18 169.26,495.29 169.75,494.39 C170.24,493.49 170.72,492.59 171.19,491.69 C171.67,490.78 172.13,489.87 172.59,488.95 C173.04,488.04 173.48,487.12 173.92,486.19 C174.35,485.27 174.78,484.34 175.20,483.40 C175.61,482.47 176.02,481.53 176.41,480.59 C176.81,479.65 177.20,478.70 177.57,477.75 C177.95,476.80 178.32,475.85 178.67,474.89 C179.03,473.93 179.38,472.97 179.72,472.00 C180.05,471.04 180.38,470.07 180.70,469.10 C181.01,468.13 181.32,467.15 181.61,466.17 C181.91,465.19 182.20,464.21 182.47,463.23 C182.75,462.24 183.01,461.25 183.27,460.26 C183.52,459.28 183.77,458.28 184.00,457.29 C184.24,456.29 184.46,455.30 184.68,454.30 C184.89,453.30 185.10,452.29 185.29,451.29 C185.49,450.29 185.67,449.28 185.85,448.28 C186.03,447.27 186.19,446.26 186.35,445.25 C186.51,444.24 186.66,443.23 186.80,442.22 C186.94,441.20 187.07,440.19 187.19,439.17 C187.31,438.16 187.42,437.14 187.53,436.13 C187.63,435.11 187.73,434.09 187.82,433.07 C187.90,432.06 187.98,431.04 188.05,430.02 C188.12,429.00 188.18,427.98 188.24,426.95 C188.29,425.93 188.33,424.91 188.37,423.89 C188.41,422.87 188.44,421.85 188.46,420.83 C188.48,419.80 188.49,418.78 188.50,417.76 C188.50,416.74 188.50,415.71 188.49,414.69 C188.48,413.67 188.46,412.65 188.44,411.63 C188.41,410.60 188.38,409.58 188.34,408.56 C188.30,407.54 188.24,406.52 188.19,405.50" stroke="#00ffff" stroke-width="2.4" fill="none" stroke-linecap="round" stroke-linejoin="round" clip-path="url(#clipb)"/>
<path d="M55.00,600.00 C55.76,599.31 56.51,598.62 57.27,597.94 C58.03,597.26 58.80,596.58 59.57,595.91 C60.34,595.24 61.12,594.58 61.90,593.91 C62.68,593.25 63.46,592.60 64.25,591.95 C65.04,591.29 65.83,590.65 66.62,590.00 C67.41,589.36 68.21,588.72 69.01,588.08 C69.81,587.45 70.61,586.81 71.42,586.18 C72.22,585.55 73.03,584.93 73.84,584.30 C74.65,583.68 75.46,583.05 76.27,582.43 C77.08,581.81 77.90,581.20 78.71,580.58 C79.53,579.96 80.34,579.35 81.16,578.74 C81.98,578.12 82.80,577.51 83.61,576.90 C84.43,576.29 85.25,575.68 86.07,575.06 C86.89,574.45 87.71,573.84 88.53,573.23 C89.35,572.62 90.17,572.01 90.99,571.40 C91.81,570.79 92.63,570.18 93.45,569.57 C94.27,568.96 95.08,568.35 95.90,567.73 C96.72,567.12 97.53,566.50 98.35,565.88 C99.16,565.27 99.98,564.65 100.79,564.03 C101.60,563.41 102.41,562.79 103.22,562.16 C104.03,561.53 104.83,560.91 105.64,560.28 C106.44,559.65 107.25,559.01 108.04,558.38 C108.84,557.74 109.64,557.10 110.44,556.46 C111.23,555.81 112.02,555.17 112.81,554.51 C113.59,553.86 114.38,553.21 115.16,552.55 C115.94,551.89 116.72,551.22 117.49,550.55 C118.26,549.88 119.03,549.21 119.79,548.53 C120.56,547.85 121.32,547.17 122.07,546.48 C122.82,545.79 123.57,545.09 124.31,544.39 C125.06,543.69 125.80,542.98 126.53,542.27 C127.26,541.55 127.98,540.83 128.70,540.10 C129.42,539.38 130.13,538.64 130.83,537.90 C131.54,537.16 132.24,536.42 132.92,535.66 C133.61,534.90 134.29,534.14 134.97,533.37 C135.64,532.60 136.30,531.83 136.96,531.04 C137.61,530.26 138.26,529.46 138.89,528.66 C139.53,527.86 140.15,527.05 140.77,526.24 C141.38,525.42 141.98,524.60 142.58,523.76 C143.17,522.93 143.75,522.09 144.32,521.24 C144.89,520.40 145.45,519.54 146.00,518.68 C146.55,517.82 147.09,516.95 147.61,516.07 C148.14,515.19 148.65,514.31 149.15,513.42 C149.66,512.53 150.15,511.63 150.62,510.73 C151.10,509.83 151.57,508.92 152.02,508.00 C152.48,507.08 152.92,506.16 153.35,505.23 C153.78,504.31 154.19,503.37 154.60,502.44 C155.00,501.50 155.39,500.55 155.77,499.60 C156.15,498.65 156.51,497.70 156.86,496.74 C157.22,495.78 157.55,494.81 157.88,493.85 C158.21,492.88 158.52,491.90 158.82,490.93 C159.12,489.95 159.40,488.97 159.67,487.98 C159.94,487.00 160.20,486.01 160.45,485.02 C160.69,484.02 160.92,483.03 161.14,482.03 C161.36,481.03 161.56,480.03 161.75,479.03 C161.94,478.02 162.12,477.01 162.28,476.01 C162.45,475.00 162.60,473.99 162.74,472.98 C162.88,471.96 163.01,470.95 163.14,469.93 C163.26,468.92 163.37,467.90 163.47,466.89 C163.57,465.87 163.67,464.85 163.75,463.83 C163.84,462.82 163.92,461.80 163.99,460.78 C164.06,459.76 164.12,458.74 164.18,457.72 C164.23,456.70 164.28,455.68 164.33,454.66 C164.38,453.63 164.41,452.61 164.45,451.59 C164.49,450.57 164.52,449.55 164.54,448.53 C164.57,447.51 164.60,446.48 164.62,445.46 C164.64,444.44 164.66,443.42 164.67,442.40 C164.69,441.37 164.70,440.35 164.72,439.33 C164.73,438.31 164.74,437.29 164.76,436.27 C164.77,435.24 164.78,434.22 164.80,433.20" stroke="#ff00ff" stroke-width="2.4" fill="none" stroke-linecap="round" stroke-linejoin="round" clip-path="url(#clipb)"/>
<path d="M53.50,600.00 C54.29,599.35 55.07,598.69 55.87,598.05 C56.66,597.40 57.46,596.76 58.25,596.12 C59.05,595.48 59.86,594.85 60.66,594.22 C61.47,593.59 62.27,592.96 63.08,592.34 C63.89,591.71 64.71,591.09 65.52,590.47 C66.33,589.85 67.15,589.23 67.97,588.62 C68.78,588.00 69.60,587.39 70.42,586.78 C71.24,586.17 72.06,585.55 72.88,584.94 C73.70,584.33 74.52,583.72 75.34,583.11 C76.16,582.50 76.98,581.89 77.80,581.28 C78.63,580.67 79.45,580.06 80.27,579.45 C81.09,578.84 81.90,578.23 82.72,577.61 C83.54,577.00 84.36,576.39 85.17,575.77 C85.99,575.15 86.80,574.53 87.62,573.91 C88.43,573.29 89.24,572.67 90.05,572.04 C90.86,571.42 91.66,570.79 92.47,570.16 C93.27,569.52 94.07,568.89 94.87,568.25 C95.67,567.61 96.46,566.97 97.25,566.32 C98.05,565.67 98.83,565.02 99.62,564.36 C100.40,563.70 101.18,563.04 101.96,562.38 C102.73,561.71 103.50,561.04 104.27,560.36 C105.04,559.68 105.80,559.00 106.55,558.31 C107.31,557.62 108.06,556.92 108.80,556.22 C109.54,555.52 110.28,554.81 111.01,554.09 C111.74,553.38 112.46,552.65 113.18,551.92 C113.89,551.19 114.60,550.45 115.30,549.71 C116.00,548.96 116.69,548.20 117.37,547.44 C118.05,546.68 118.72,545.91 119.38,545.13 C120.04,544.35 120.70,543.56 121.34,542.76 C121.98,541.96 122.61,541.16 123.22,540.34 C123.84,539.53 124.45,538.70 125.04,537.87 C125.63,537.04 126.21,536.19 126.78,535.34 C127.34,534.49 127.89,533.63 128.43,532.76 C128.97,531.89 129.49,531.01 130.00,530.12 C130.51,529.24 131.00,528.34 131.49,527.44 C131.97,526.54 132.43,525.63 132.89,524.71 C133.34,523.79 133.78,522.87 134.21,521.94 C134.63,521.01 135.04,520.07 135.44,519.13 C135.84,518.19 136.23,517.25 136.61,516.29 C136.98,515.34 137.34,514.38 137.69,513.42 C138.04,512.46 138.37,511.50 138.70,510.53 C139.02,509.56 139.34,508.58 139.64,507.61 C139.94,506.63 140.23,505.65 140.51,504.66 C140.78,503.68 141.05,502.69 141.31,501.70 C141.56,500.71 141.81,499.72 142.04,498.72 C142.27,497.73 142.50,496.73 142.71,495.73 C142.92,494.73 143.13,493.73 143.32,492.72 C143.51,491.72 143.69,490.71 143.87,489.70 C144.04,488.70 144.20,487.69 144.36,486.68 C144.51,485.66 144.66,484.65 144.79,483.64 C144.93,482.62 145.06,481.61 145.17,480.59 C145.29,479.58 145.40,478.56 145.50,477.54 C145.60,476.53 145.70,475.51 145.78,474.49 C145.86,473.47 145.94,472.45 146.01,471.43 C146.08,470.41 146.14,469.39 146.19,468.37 C146.24,467.34 146.28,466.32 146.32,465.30 C146.36,464.28 146.39,463.26 146.41,462.23 C146.43,461.21 146.44,460.19 146.45,459.17 C146.46,458.14 146.46,457.12 146.45,456.10 C146.44,455.08 146.43,454.05 146.41,453.03 C146.38,452.01 146.36,450.99 146.32,449.96 C146.29,448.94 146.24,447.92 146.20,446.90" stroke="#e4c644" stroke-width="2.9" fill="none" stroke-linecap="round" stroke-linejoin="round" clip-path="url(#clipb)"/>
<line x1="131.50" y1="485.90" x2="257.50" y2="394.60" stroke="#000" stroke-width="1.5" />
<line x1="46.50" y1="322.60" x2="46.50" y2="594.70" stroke="#000" stroke-width="1" />
<line x1="46.00" y1="594.50" x2="382.87" y2="594.50" stroke="#000" stroke-width="1" />
<line x1="46.50" y1="594.20" x2="50.00" y2="594.20" stroke="#000" stroke-width="1" />
<line x1="46.50" y1="570.74" x2="48.50" y2="570.74" stroke="#000" stroke-width="1" />
<line x1="46.50" y1="557.02" x2="48.50" y2="557.02" stroke="#000" stroke-width="1" />
<line x1="46.50" y1="547.28" x2="48.50" y2="547.28" stroke="#000" stroke-width="1" />
<line x1="46.50" y1="539.73" x2="48.50" y2="539.73" stroke="#000" stroke-width="1" />
<line x1="46.50" y1="533.56" x2="48.50" y2="533.56" stroke="#000" stroke-width="1" />
<line x1="46.50" y1="528.34" x2="48.50" y2="528.34" stroke="#000" stroke-width="1" />
<line x1="46.50" y1="523.82" x2="48.50" y2="523.82" stroke="#000" stroke-width="1" />
<line x1="46.50" y1="519.84" x2="48.50" y2="519.84" stroke="#000" stroke-width="1" />
<line x1="46.50" y1="516.27" x2="50.00" y2="516.27" stroke="#000" stroke-width="1" />
<line x1="46.50" y1="492.81" x2="48.50" y2="492.81" stroke="#000" stroke-width="1" />
<line x1="46.50" y1="479.09" x2="48.50" y2="479.09" stroke="#000" stroke-width="1" />
<line x1="46.50" y1="469.35" x2="48.50" y2="469.35" stroke="#000" stroke-width="1" />
<line x1="46.50" y1="461.80" x2="48.50" y2="461.80" stroke="#000" stroke-width="1" />
<line x1="46.50" y1="455.63" x2="48.50" y2="455.63" stroke="#000" stroke-width="1" />
<line x1="46.50" y1="450.41" x2="48.50" y2="450.41" stroke="#000" stroke-width="1" />
<line x1="46.50" y1="445.89" x2="48.50" y2="445.89" stroke="#000" stroke-width="1" />
<line x1="46.50" y1="441.91" x2="48.50" y2="441.91" stroke="#000" stroke-width="1" />
<line x1="46.50" y1="438.34" x2="50.00" y2="438.34" stroke="#000" stroke-width="1" />
<line x1="46.50" y1="414.88" x2="48.50" y2="414.88" stroke="#000" stroke-width="1" />
<line x1="46.50" y1="401.16" x2="48.50" y2="401.16" stroke="#000" stroke-width="1" />
<line x1="46.50" y1="391.42" x2="48.50" y2="391.42" stroke="#000" stroke-width="1" />
<line x1="46.50" y1="383.87" x2="48.50" y2="383.87" stroke="#000" stroke-width="1" />
<line x1="46.50" y1="377.70" x2="48.50" y2="377.70" stroke="#000" stroke-width="1" />
<line x1="46.50" y1="372.48" x2="48.50" y2="372.48" stroke="#000" stroke-width="1" />
<line x1="46.50" y1="367.96" x2="48.50" y2="367.96" stroke="#000" stroke-width="1" />
<line x1="46.50" y1="363.98" x2="48.50" y2="363.98" stroke="#000" stroke-width="1" />
<line x1="46.50" y1="360.41" x2="50.00" y2="360.41" stroke="#000" stroke-width="1" />
<line x1="46.50" y1="336.95" x2="48.50" y2="336.95" stroke="#000" stroke-width="1" />
<line x1="46.50" y1="323.23" x2="48.50" y2="323.23" stroke="#000" stroke-width="1" />
<line x1="46.50" y1="594.20" x2="46.50" y2="590.70" stroke="#000" stroke-width="1" />
<line x1="88.87" y1="594.20" x2="88.87" y2="590.70" stroke="#000" stroke-width="1" />
<line x1="118.93" y1="594.20" x2="118.93" y2="590.70" stroke="#000" stroke-width="1" />
<line x1="142.25" y1="594.20" x2="142.25" y2="590.70" stroke="#000" stroke-width="1" />
<line x1="161.30" y1="594.20" x2="161.30" y2="590.70" stroke="#000" stroke-width="1" />
<line x1="177.41" y1="594.20" x2="177.41" y2="590.70" stroke="#000" stroke-width="1" />
<line x1="191.37" y1="594.20" x2="191.37" y2="590.70" stroke="#000" stroke-width="1" />
<line x1="203.68" y1="594.20" x2="203.68" y2="590.70" stroke="#000" stroke-width="1" />
<line x1="214.69" y1="594.20" x2="214.69" y2="590.70" stroke="#000" stroke-width="1" />
<line x1="287.12" y1="594.20" x2="287.12" y2="590.70" stroke="#000" stroke-width="1" />
<line x1="329.49" y1="594.20" x2="329.49" y2="590.70" stroke="#000" stroke-width="1" />
<line x1="359.55" y1="594.20" x2="359.55" y2="590.70" stroke="#000" stroke-width="1" />
<line x1="382.87" y1="594.20" x2="382.87" y2="590.70" stroke="#000" stroke-width="1" />
<text x="32.40" y="598.60" font-size="13.9" text-anchor="end" font-family='"Liberation Sans", sans-serif' stroke="#000" stroke-width="0.25" >10</text>
<text x="32.60" y="589.80" font-size="9.6" text-anchor="start" font-family='"Liberation Sans", sans-serif' stroke="#000" stroke-width="0.25" >&#8722;3</text>
<text x="32.40" y="520.67" font-size="13.9" text-anchor="end" font-family='"Liberation Sans", sans-serif' stroke="#000" stroke-width="0.25" >10</text>
<text x="32.60" y="511.87" font-size="9.6" text-anchor="start" font-family='"Liberation Sans", sans-serif' stroke="#000" stroke-width="0.25" >&#8722;2</text>
<text x="32.40" y="442.74" font-size="13.9" text-anchor="end" font-family='"Liberation Sans", sans-serif' stroke="#000" stroke-width="0.25" >10</text>
<text x="32.60" y="433.94" font-size="9.6" text-anchor="start" font-family='"Liberation Sans", sans-serif' stroke="#000" stroke-width="0.25" >&#8722;1</text>
<text x="32.40" y="364.81" font-size="13.9" text-anchor="end" font-family='"Liberation Sans", sans-serif' stroke="#000" stroke-width="0.25" >10</text>
<text x="32.60" y="356.01" font-size="9.6" text-anchor="start" font-family='"Liberation Sans", sans-serif' stroke="#000" stroke-width="0.25" >0</text>
<text x="46.50" y="606.90" font-size="12.6" text-anchor="middle" font-family='"Liberation Sans", sans-serif' stroke="#000" stroke-width="0.25" >0.2</text>
<text x="88.87" y="606.90" font-size="12.6" text-anchor="middle" font-family='"Liberation Sans", sans-serif' stroke="#000" stroke-width="0.25" >0.3</text>
<text x="118.93" y="606.90" font-size="12.6" text-anchor="middle" font-family='"Liberation Sans", sans-serif' stroke="#000" stroke-width="0.25" >0.4</text>
<text x="142.25" y="606.90" font-size="12.6" text-anchor="middle" font-family='"Liberation Sans", sans-serif' stroke="#000" stroke-width="0.25" >0.5</text>
<text x="177.41" y="606.90" font-size="12.6" text-anchor="middle" font-family='"Liberation Sans", sans-serif' stroke="#000" stroke-width="0.25" >0.7</text>
<text x="214.69" y="606.90" font-size="12.6" text-anchor="middle" font-family='"Liberation Sans", sans-serif' stroke="#000" stroke-width="0.25" >1</text>
<text x="287.12" y="606.90" font-size="12.6" text-anchor="middle" font-family='"Liberation Sans", sans-serif' stroke="#000" stroke-width="0.25" >2</text>
<text x="329.49" y="606.90" font-size="12.6" text-anchor="middle" font-family='"Liberation Sans", sans-serif' stroke="#000" stroke-width="0.25" >3</text>
<text x="359.55" y="606.90" font-size="12.6" text-anchor="middle" font-family='"Liberation Sans", sans-serif' stroke="#000" stroke-width="0.25" >4</text>
<text x="382.87" y="606.90" font-size="12.6" text-anchor="middle" font-family='"Liberation Sans", sans-serif' stroke="#000" stroke-width="0.25" >5</text>
<text x="111.20" y="627.20" font-size="13.65" text-anchor="start" font-family='"Liberation Sans", sans-serif' stroke="#000" stroke-width="0.25" >normalized excitation frequency, &#969;</text>
<text x="52.00" y="330.00" font-size="14.0" text-anchor="start" font-family='"Liberation Sans", sans-serif' stroke="#000" stroke-width="0.25" >(b)</text>
<text transform="translate(9.5,630) rotate(-90)" font-size="13.4" font-family='"Liberation Sans", sans-serif' stroke="#000" stroke-width="0.25">high orbit, bistable harvester power density, P<tspan font-size="9.5" dy="6.6" dx="-1.4">1</tspan><tspan dy="-6.6" dx="-0.2">/(1+&#956;)</tspan></text>
<text x="67.90" y="448.10" font-size="13.1" text-anchor="start" font-family='"Liberation Sans", sans-serif' stroke="#000" stroke-width="0.25" >w/ auxiliary</text>
<text x="67.90" y="463.95" font-size="13.1" text-anchor="start" font-family='"Liberation Sans", sans-serif' stroke="#000" stroke-width="0.25" >oscillator as</text>
<text x="67.90" y="479.80" font-size="13.1" text-anchor="start" font-family='"Liberation Sans", sans-serif' stroke="#000" stroke-width="0.25" >tuning ratio</text>
<text x="67.90" y="495.65" font-size="13.1" text-anchor="start" font-family='"Liberation Sans", sans-serif' stroke="#000" stroke-width="0.25" >increases</text>
<path d="M262.90,390.90 L256.79,399.51 L256.90,395.24 L252.80,394.00 Z" fill="#000"/>
</svg>
</body></html>
